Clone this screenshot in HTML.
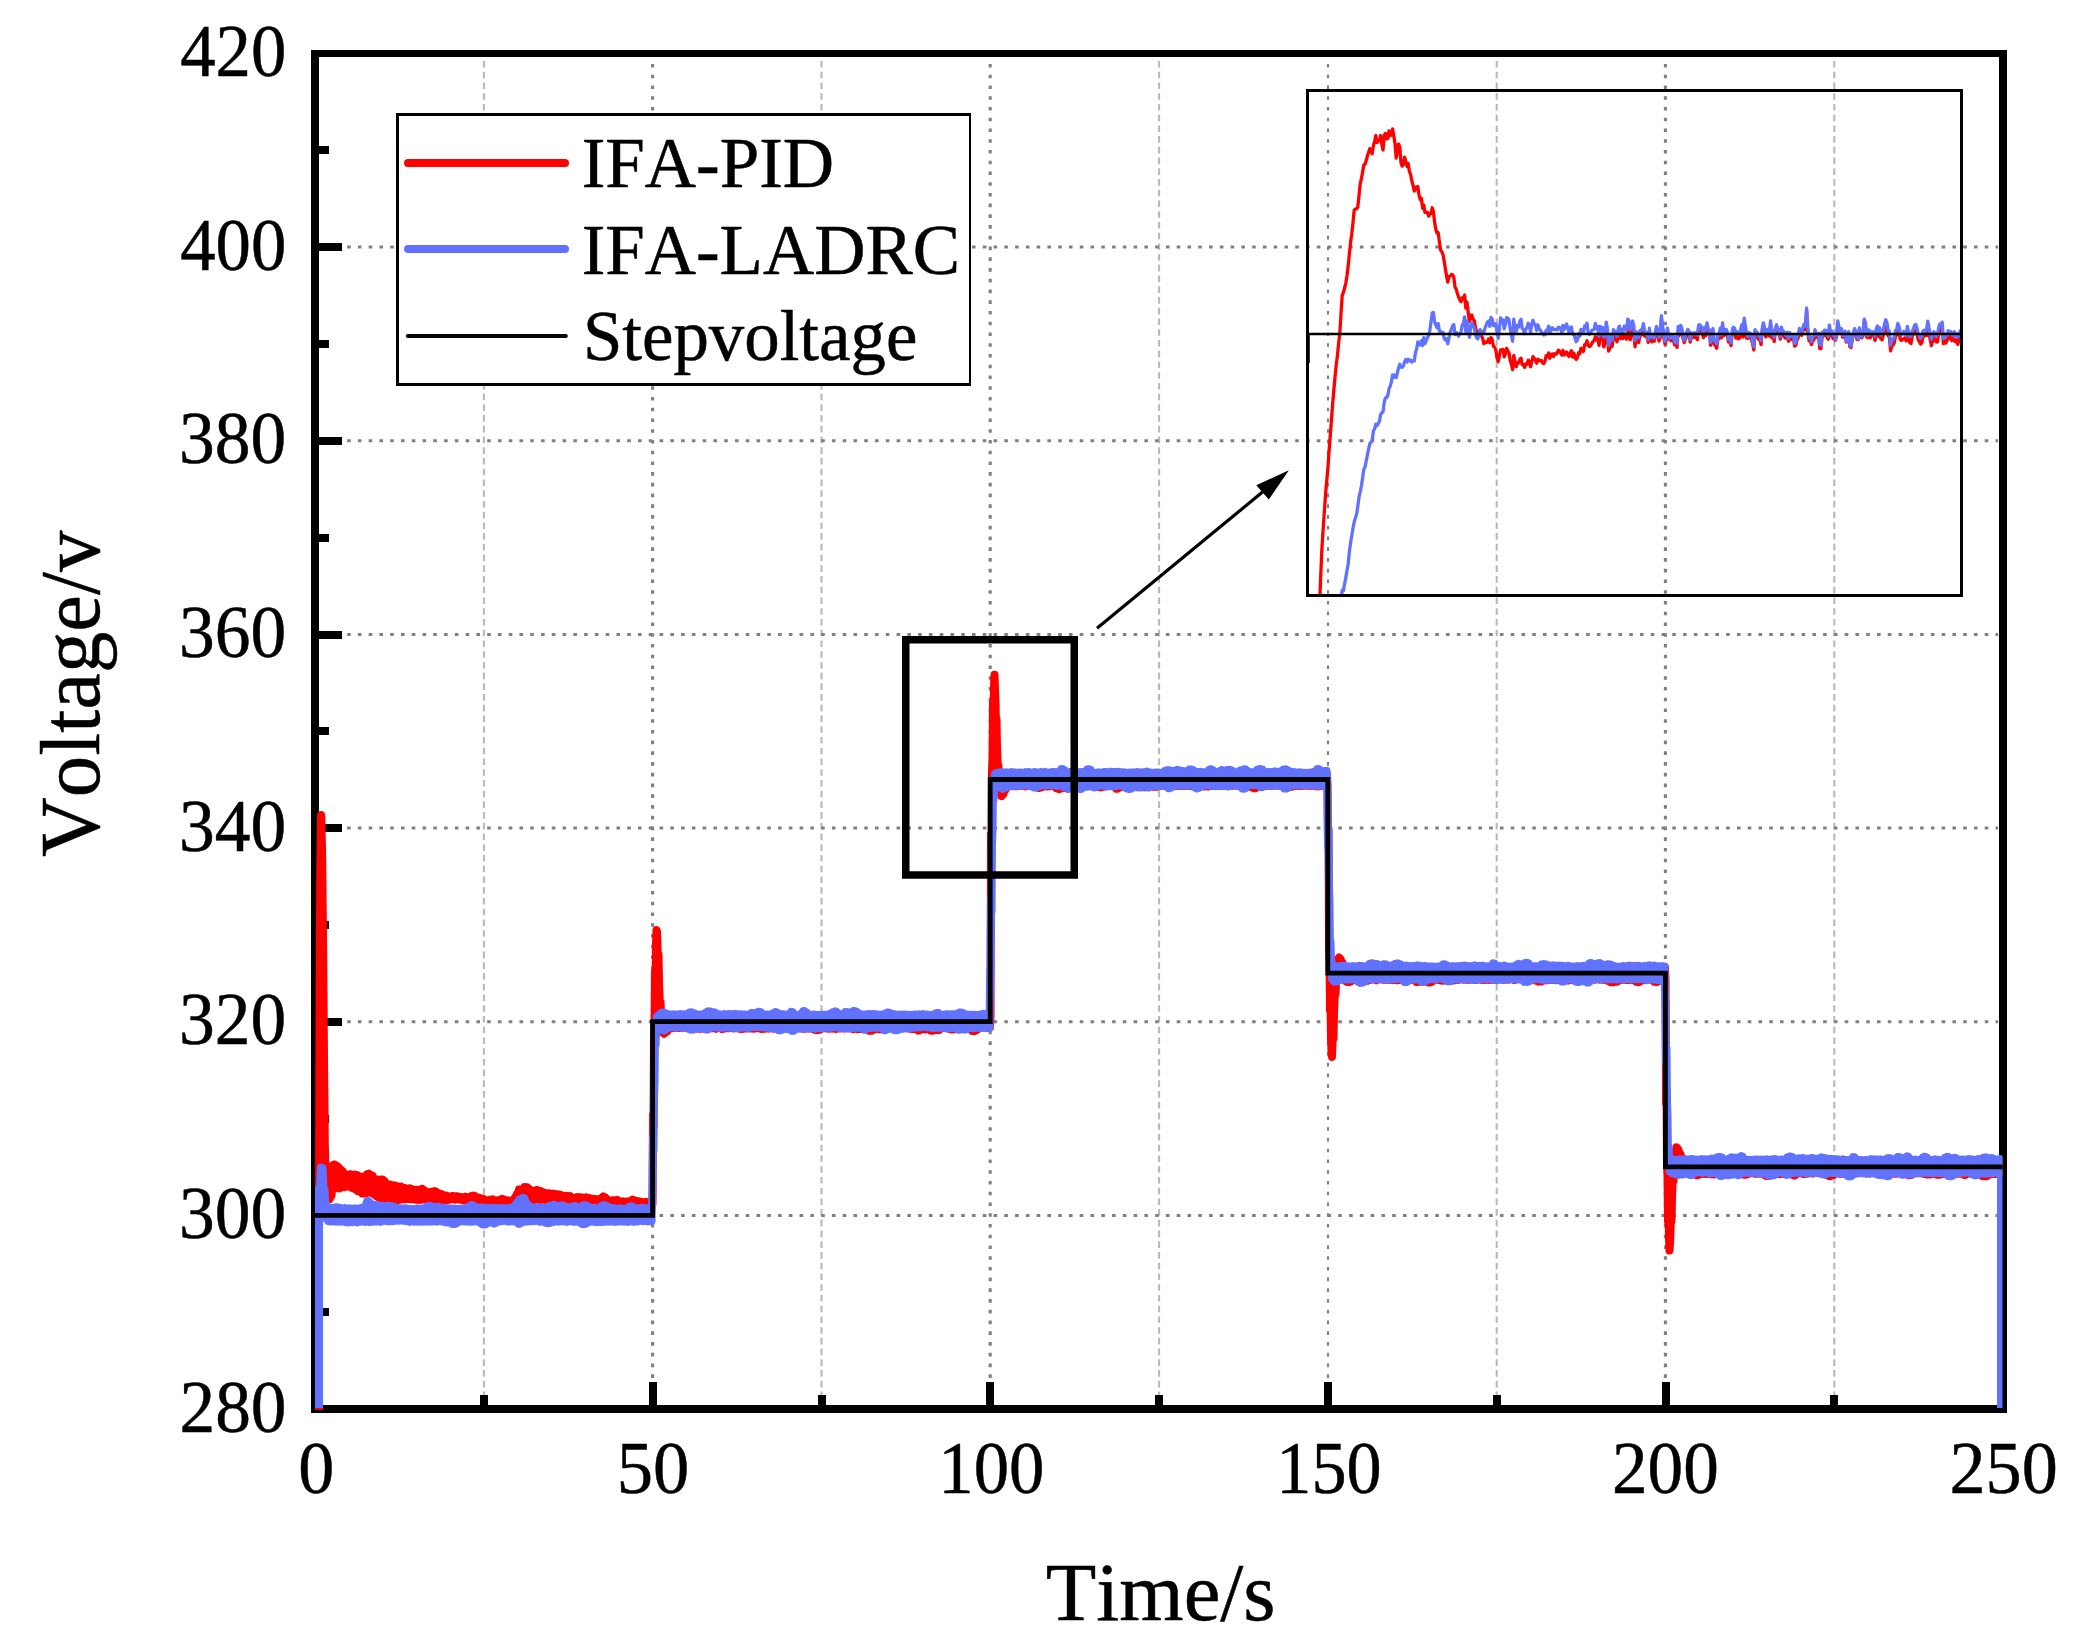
<!DOCTYPE html>
<html><head><meta charset="utf-8"><title>Voltage step response</title>
<style>html,body{margin:0;padding:0;background:#fff}body{width:2073px;height:1648px;overflow:hidden}</style>
</head><body>
<svg width="2073" height="1648" viewBox="0 0 2073 1648" style="display:block">
<defs><clipPath id="pc"><rect x="315" y="57" width="1687.5" height="1353"/></clipPath><clipPath id="ic"><rect x="1309" y="92" width="651" height="503.5"/></clipPath></defs>
<rect width="2073" height="1648" fill="#fff"/>
<g><line x1="483.9" y1="61" x2="483.9" y2="1396" stroke="#b9b9b9" stroke-width="2.1" stroke-dasharray="6.6 4.13"/><line x1="821.5" y1="61" x2="821.5" y2="1396" stroke="#b9b9b9" stroke-width="2.1" stroke-dasharray="6.6 4.13"/><line x1="1159.1" y1="61" x2="1159.1" y2="1396" stroke="#b9b9b9" stroke-width="2.1" stroke-dasharray="6.6 4.13"/><line x1="1496.7" y1="61" x2="1496.7" y2="1396" stroke="#b9b9b9" stroke-width="2.1" stroke-dasharray="6.6 4.13"/><line x1="1834.3" y1="61" x2="1834.3" y2="1396" stroke="#b9b9b9" stroke-width="2.1" stroke-dasharray="6.6 4.13"/><line x1="652.6" y1="64" x2="652.6" y2="1380" stroke="#808080" stroke-width="3.1" stroke-dasharray="3.6 7.14"/><line x1="990.2" y1="64" x2="990.2" y2="1380" stroke="#808080" stroke-width="3.1" stroke-dasharray="3.6 7.14"/><line x1="1328" y1="64" x2="1328" y2="1380" stroke="#808080" stroke-width="2.1" stroke-dasharray="3.6 7.14"/><line x1="1665.4" y1="64" x2="1665.4" y2="1380" stroke="#808080" stroke-width="3.1" stroke-dasharray="3.6 7.14"/><line x1="347.1" y1="1215.4" x2="1998" y2="1215.4" stroke="#808080" stroke-width="3" stroke-dasharray="3.6 7.174"/><line x1="347.1" y1="1021.7" x2="1998" y2="1021.7" stroke="#808080" stroke-width="3" stroke-dasharray="3.6 7.174"/><line x1="347.1" y1="828" x2="1998" y2="828" stroke="#808080" stroke-width="3" stroke-dasharray="3.6 7.174"/><line x1="347.1" y1="634.4" x2="1998" y2="634.4" stroke="#808080" stroke-width="3" stroke-dasharray="3.6 7.174"/><line x1="347.1" y1="440.7" x2="1998" y2="440.7" stroke="#808080" stroke-width="3" stroke-dasharray="3.6 7.174"/><line x1="347.1" y1="247" x2="1998" y2="247" stroke="#808080" stroke-width="3" stroke-dasharray="3.6 7.174"/></g>
<g fill="#000"><rect x="311" y="50" width="8" height="1363"/><rect x="1999" y="50" width="8" height="1363"/><rect x="311" y="50" width="1696" height="7"/><rect x="311" y="1405" width="1696" height="8"/>
<rect x="315" y="1212" width="27" height="8"/>
<rect x="315" y="1018" width="27" height="8"/>
<rect x="315" y="824" width="27" height="8"/>
<rect x="315" y="631" width="27" height="8"/>
<rect x="315" y="437" width="27" height="8"/>
<rect x="315" y="243" width="27" height="8"/>
<rect x="315" y="1308" width="14" height="8"/>
<rect x="315" y="1115" width="14" height="8"/>
<rect x="315" y="921" width="14" height="8"/>
<rect x="315" y="727" width="14" height="8"/>
<rect x="315" y="534" width="14" height="8"/>
<rect x="315" y="340" width="14" height="8"/>
<rect x="315" y="146" width="14" height="8"/>
<rect x="649" y="1382" width="8" height="27"/>
<rect x="986" y="1382" width="8" height="27"/>
<rect x="1324" y="1382" width="8" height="27"/>
<rect x="1662" y="1382" width="8" height="27"/>
<rect x="480" y="1395" width="8" height="14"/>
<rect x="818" y="1395" width="8" height="14"/>
<rect x="1155" y="1395" width="8" height="14"/>
<rect x="1493" y="1395" width="8" height="14"/>
<rect x="1830" y="1395" width="8" height="14"/>
</g>
<g clip-path="url(#pc)" fill="none" stroke-linejoin="round">
<polyline stroke="#ff0000" stroke-width="8" points="319,1412 319,1215.3 319,1215.3 319.2,1139.8 319.4,1064.3 319.6,1004.1 319.8,963.6 320,923.2 320.2,882.7 320.4,865.7 320.6,853.1 320.8,840.4 320.9,827.8 321.1,815.1 321.3,817.8 321.5,826.7 321.7,835.5 321.9,844.4 322.1,853.3 322.3,867.9 322.5,886.8 322.7,905.7 322.9,924.5 323.1,943.4 323.3,965.4 323.5,991.4 323.7,1017.3 323.9,1043.3 324.1,1067.2 324.3,1087.3 324.5,1107.3 324.7,1127.4 324.8,1144.3 325,1151.1 325.2,1158 325.4,1164.8 325.6,1170.9 325.8,1171.6 326,1172.4 326.2,1173.1 326.4,1173.9 326.6,1174.6 327,1173.6 327.5,1199 328,1199 328.5,1173.6 329,1169.3 329.5,1199.3 330,1198.2 330.5,1167.6 331,1167.1 331.5,1195.8 332,1189 332.5,1166.4 333,1165.1 333.5,1183.3 334,1184.6 334.5,1164.6 335,1165.1 335.5,1185.5 336,1186.7 336.5,1165.4 337,1166.1 337.5,1187.2 338,1188.2 338.5,1166.9 339,1168.3 339.5,1188.4 340,1188.2 340.5,1169.2 341,1169.8 341.5,1187.4 342,1187.2 342.5,1171 343,1171.9 343.5,1187 344,1187.1 344.5,1173.8 345,1174 345.5,1186.7 346,1186.2 346.5,1174.5 347,1174.6 347.5,1185.9 348,1185.7 348.5,1174.6 349,1174.4 349.5,1186.1 350,1186.9 350.5,1174.2 351,1174.4 351.5,1187 352,1187.7 352.5,1175.3 353,1174.9 353.5,1187 354,1187.8 354.5,1175.5 355,1174.8 355.5,1187.8 356,1189.6 356.5,1175.3 357,1175.1 357.5,1189.9 358,1191.1 358.5,1176.4 359,1176.6 359.5,1191.1 360,1191.7 360.5,1176.6 361,1177.2 361.5,1192.4 362,1193.3 362.5,1176.7 363,1176.7 363.5,1193.2 364,1193.5 364.5,1176.4 365,1176.3 365.5,1193.1 366,1193.5 366.5,1175.7 367,1174.3 367.5,1192.6 368,1192.3 368.5,1174.2 369,1173.8 369.5,1191.8 370,1192.1 370.5,1175.2 371,1175.3 371.5,1193.1 372,1193.2 372.5,1175.4 373,1176.7 373.5,1194.1 374,1194.5 374.5,1180 375,1180.6 375.5,1195.4 376,1196 376.5,1179.8 377,1180.6 377.5,1196.7 378,1197.1 378.5,1180.7 379,1179.8 379.5,1197.5 380,1197.9 380.5,1180 381,1179.7 381.5,1198.3 382,1198.7 382.5,1179.4 383,1179.6 383.5,1198.8 384,1199.2 384.5,1181.1 385,1182.8 385.5,1199 386,1199.4 386.5,1183.8 387,1184.8 387.5,1199.5 388,1199.5 388.5,1184.6 389,1185.1 389.5,1199 390,1198.6 390.5,1184.6 391,1185.7 391.5,1198.5 392,1199 392.5,1185.2 393,1185.5 393.5,1199.3 394,1199.4 394.5,1185.2 395,1186.3 395.5,1199.4 396,1199.6 396.5,1186 397,1186.8 397.5,1200 398,1199.7 398.5,1187.4 399,1186.9 399.5,1199.7 400,1199.5 400.5,1186.9 401,1186.6 401.5,1199.5 402,1199.4 402.5,1187.7 403,1188.3 403.5,1199 404,1199.2 404.5,1188.8 405,1188.3 405.5,1199.2 406,1199.1 406.5,1188.5 407,1188.7 407.5,1198.9 408,1198.6 408.5,1188.6 409,1188.4 409.5,1199.1 410,1199.1 410.5,1188.4 411,1188.7 411.5,1199.4 412,1199.2 412.5,1189.4 413,1189.5 413.5,1199.2 414,1199.3 414.5,1190.4 415,1190.2 415.5,1199.5 416,1199.7 416.5,1189.7 417,1190.5 417.5,1199.5 418,1199.7 418.5,1189.9 419,1190.1 419.5,1200 420,1199.9 420.5,1189.6 421,1189.3 421.5,1199.5 422,1199 422.5,1188.8 423,1189.9 423.5,1199.5 424,1199.4 424.5,1190.2 425,1190.8 425.5,1199.4 426,1199 426.5,1191.4 427,1192.4 427.5,1199.5 428,1199.5 428.5,1192.3 429,1193.3 429.5,1199.4 430,1198.8 430.5,1192.6 431,1192.1 431.5,1199 432,1199.4 432.5,1192.6 433,1193.5 433.5,1199.7 434,1199.8 434.5,1193.7 435,1191.1 435.5,1199.5 436,1199.5 436.5,1192.1 437,1192.3 437.5,1199.6 438,1199.3 438.5,1193.9 439,1194.3 439.5,1198.9 440,1199.4 440.5,1193.8 441,1195.5 441.5,1199.5 442,1200.1 442.5,1195.4 443,1194.8 443.5,1199.5 444,1199.9 444.5,1196.1 445,1195.7 445.5,1199.8 446,1199.9 446.5,1196.4 447,1195.8 447.5,1200.1 448,1199.7 448.5,1196.5 449,1196.5 449.5,1199.7 450,1199.1 450.5,1196.7 451,1196.8 451.5,1199.1 452,1199.1 452.5,1196 453,1196.6 453.5,1199.1 454,1199.2 454.5,1196.4 455,1196.5 455.5,1199.6 456,1199.4 456.5,1196.3 457,1196.9 457.5,1199.2 458,1198.7 458.5,1196.6 459,1196.8 459.5,1199 460,1199.5 460.5,1197 461,1197.2 461.5,1199.9 462,1200.1 462.5,1198.1 463,1197.7 463.5,1199.9 464,1200.3 464.5,1196.9 465,1196.7 465.5,1199.9 466,1199.6 466.5,1197.4 467,1197.3 467.5,1199.1 468,1199.6 468.5,1198.6 469,1198.8 469.5,1199.8 470,1199.4 470.5,1198.1 471,1196.4 471.5,1199.1 472,1199.1 472.5,1195.7 473,1195.6 473.5,1199.1 474,1199.3 474.5,1195.8 475,1196.9 475.5,1199.1 476,1199.6 476.5,1197.3 477,1197.3 477.5,1199.8 478,1200.5 478.5,1198 479,1197.8 479.5,1200 480,1199.9 480.5,1198.7 481,1198.5 481.5,1199.5 482,1200 482.5,1199 483,1198.7 483.5,1199.7 484,1200.6 484.5,1199.6 485,1199.9 485.5,1200.9 486,1201.1 486.5,1200.1 487,1200.5 487.5,1201.5 488,1201.3 488.5,1200.3 489,1200.1 489.5,1201.1 490,1200.7 490.5,1199.7 491,1200.3 491.5,1201.3 492,1201 492.5,1200 493,1199.6 493.5,1200.6 494,1202.1 494.5,1201.1 495,1201.5 495.5,1202.5 496,1202.6 496.5,1201.6 497,1200.5 497.5,1201.5 498,1201.7 498.5,1200.7 499,1200.2 499.5,1201.2 500,1201.4 500.5,1200.4 501,1199.5 501.5,1200.5 502,1199.8 502.5,1198.8 503,1199.2 503.5,1200.2 504,1200.7 504.5,1199.7 505,1199.7 505.5,1200.7 506,1201.3 506.5,1200.3 507,1200.6 507.5,1201.6 508,1201.5 508.5,1200.5 509,1200.6 509.5,1201.6 510,1201.8 510.5,1200.8 511,1201.9 511.5,1202.9 512,1203.1 512.5,1202.1 513,1200.7 513.5,1201.7 514,1199.8 514.5,1198.8 515,1197.4 515.5,1199.6 516,1199.2 516.5,1195.7 517,1193.8 517.5,1199.6 518,1199.3 518.5,1191.9 519,1189.5 519.5,1200 520,1200.1 520.5,1189.5 521,1189.7 521.5,1200.3 522,1200.2 522.5,1189.5 523,1189.6 523.5,1200 524,1199.9 524.5,1187.1 525,1187.6 525.5,1199.5 526,1199.5 526.5,1187.3 527,1187.2 527.5,1199.7 528,1199.9 528.5,1188.4 529,1188.9 529.5,1199.9 530,1199.9 530.5,1189.9 531,1191 531.5,1200 532,1200.1 532.5,1190.9 533,1191.1 533.5,1200.3 534,1200.1 534.5,1190.6 535,1190.9 535.5,1199.7 536,1199.3 536.5,1190.6 537,1190 537.5,1198.9 538,1199.4 538.5,1191.7 539,1191.7 539.5,1199.8 540,1200.1 540.5,1191.6 541,1191.2 541.5,1199.6 542,1199.6 542.5,1191.9 543,1192.7 543.5,1199.6 544,1199.9 544.5,1193.2 545,1193.1 545.5,1199.7 546,1199.5 546.5,1193.2 547,1193.9 547.5,1199.7 548,1199.7 548.5,1193.2 549,1194.6 549.5,1200 550,1199.9 550.5,1193.8 551,1194.7 551.5,1199.7 552,1199.9 552.5,1194.4 553,1193.8 553.5,1199.6 554,1200 554.5,1194 555,1194 555.5,1199.9 556,1199.6 556.5,1194.9 557,1194.6 557.5,1199.1 558,1199.5 558.5,1194.5 559,1194.9 559.5,1199.7 560,1200.4 560.5,1194.8 561,1195.3 561.5,1200.3 562,1200.4 562.5,1195.9 563,1197 563.5,1200.3 564,1200.2 564.5,1196.1 565,1196.8 565.5,1200.5 566,1200.5 566.5,1195.8 567,1196.6 567.5,1200.6 568,1200.2 568.5,1197.1 569,1196.8 569.5,1200 570,1199.8 570.5,1196.1 571,1197.5 571.5,1199.9 572,1200.1 572.5,1197.8 573,1198.3 573.5,1200.6 574,1200.7 574.5,1198.4 575,1197.9 575.5,1200.6 576,1200.6 576.5,1198.2 577,1197.1 577.5,1200.5 578,1200.5 578.5,1197.7 579,1197.3 579.5,1200.2 580,1200 580.5,1197.5 581,1197.4 581.5,1199.7 582,1199.6 582.5,1198 583,1198.9 583.5,1199.9 584,1199.7 584.5,1198.1 585,1197.9 585.5,1199.7 586,1199.7 586.5,1197.3 587,1198.1 587.5,1199.8 588,1199.4 588.5,1198.4 589,1198.2 589.5,1199.4 590,1199.9 590.5,1198.6 591,1198.5 591.5,1200.5 592,1200.8 592.5,1198.9 593,1199.1 593.5,1200.4 594,1200.4 594.5,1198.8 595,1198.9 595.5,1200.1 596,1200.3 596.5,1199.3 597,1199.8 597.5,1200.8 598,1200.2 598.5,1199.2 599,1199.4 599.5,1200.4 600,1200.3 600.5,1199.3 601,1198.8 601.5,1200.4 602,1200.3 602.5,1197 603,1196.6 603.5,1200.3 604,1199.8 604.5,1197 605,1197.1 605.5,1199.8 606,1199.7 606.5,1198.7 607,1199 607.5,1200 608,1201.4 608.5,1200.4 609,1201 609.5,1202 610,1202.2 610.5,1201.2 611,1201 611.5,1202 612,1201.4 612.5,1200.4 613,1201.1 613.5,1202.1 614,1201.5 614.5,1200.5 615,1200.8 615.5,1201.8 616,1201.5 616.5,1200.5 617,1200 617.5,1201 618,1201.7 618.5,1200.7 619,1201.2 619.5,1202.2 620,1202.5 620.5,1201.5 621,1202.3 621.5,1203.3 622,1202.6 622.5,1201.6 623,1201.4 623.5,1202.4 624,1202.8 624.5,1201.8 625,1202.8 625.5,1203.8 626,1202.6 626.5,1201.6 627,1201.5 627.5,1202.5 628,1202.4 628.5,1201.4 629,1201.8 629.5,1202.8 630,1201.9 630.5,1200.9 631,1200.7 631.5,1201.7 632,1200.9 632.5,1199.5 633,1199.7 633.5,1200.7 634,1201.6 634.5,1200.6 635,1201 635.5,1202 636,1202.4 636.5,1201.4 637,1201.2 637.5,1202.2 638,1202.9 638.5,1201.9 639,1201.5 639.5,1202.5 640,1202.8 640.5,1201.8 641,1201.8 641.5,1202.8 642,1203.2 642.5,1202.2 643,1202.9 643.5,1203.9 644,1203.7 644.5,1202.7 645,1202.7 645.5,1203.7 646,1203 646.5,1202 647,1202.6 647.5,1203.6 648,1203.3 648.5,1202.3 649,1203.6 649.5,1204.6 650,1204.6 650.5,1203.6 651,1204.3 651.5,1205.3 652,1204.8 652.5,1203.8 653,1114.6 653.5,1127 654,1034.3 654.5,1022 655,971.4 655.5,984.2 656,943.5 656.5,930 657,931.5 657.5,945.6 658,968.4 658.5,954.3 659,981.6 659.5,995.5 660,1015.7 660.5,1001.8 661,1013.1 661.5,1026.2 662,1031.1 662.5,1018.7 663,1020.7 663.5,1033.4 664,1033.7 664.5,1020.9 665,1020.9 665.5,1032.7 666,1032.3 666.5,1019.7 667,1018.6 667.5,1031.2 668,1029.7 668.5,1017.7 669,1016.9 669.5,1028.8 670,1028.6 670.5,1016.4 671,1016.6 671.5,1028.3 672,1027.9 672.5,1016.4 673,1016.5 673.5,1027.7 674,1027.8 674.5,1016.6 675,1016.3 675.5,1027.6 676,1027.8 676.5,1016.4 677,1016.4 677.5,1027.6 678,1027.9 678.5,1016.3 679,1016.4 679.5,1027.9 680,1027.6 680.5,1016.2 681,1016.5 681.5,1027.8 682,1027.6 682.5,1016.6 683,1016.3 683.5,1027.7 684,1027.6 684.5,1016 685,1016.1 685.5,1027.7 686,1027.9 686.5,1016 687,1015.7 687.5,1027.8 688,1027.5 688.5,1015.7 689,1015.4 689.5,1028 690,1027.9 690.5,1015.6 691,1015.3 691.5,1028 692,1028.7 692.5,1015.6 693,1015.6 693.5,1029 694,1029 694.5,1015.4 695,1015.4 695.5,1028.7 696,1028.1 696.5,1014.6 697,1015.6 697.5,1028.6 698,1028.3 698.5,1015.9 699,1015.9 699.5,1028.3 700,1028.7 700.5,1015.7 701,1016.1 701.5,1028.6 702,1028.6 702.5,1015.9 703,1016.1 703.5,1028.7 704,1028.5 704.5,1016.4 705,1016.2 705.5,1028.3 706,1028.1 706.5,1016.1 707,1016.3 707.5,1028.4 708,1027.8 708.5,1016.2 709,1016.3 709.5,1027.7 710,1028.2 710.5,1016 711,1016 711.5,1027.9 712,1028.1 712.5,1016 713,1015.4 713.5,1028.3 714,1028.2 714.5,1016 715,1016 715.5,1028.3 716,1028.7 716.5,1015.8 717,1016 717.5,1028.2 718,1028.2 718.5,1015.8 719,1015.9 719.5,1028 720,1028.1 720.5,1016.1 721,1015.8 721.5,1028.3 722,1029 722.5,1015.9 723,1016.2 723.5,1028.8 724,1028.5 724.5,1015.9 725,1015.8 725.5,1028.2 726,1028 726.5,1016 727,1016.1 727.5,1028 728,1028.2 728.5,1016.1 729,1016.2 729.5,1028.2 730,1028.1 730.5,1015.7 731,1016 731.5,1027.8 732,1028.1 732.5,1015.9 733,1015.9 733.5,1028.4 734,1028.4 734.5,1015.5 735,1015.5 735.5,1028.2 736,1028 736.5,1016 737,1015.8 737.5,1028.1 738,1028 738.5,1015.8 739,1015.1 739.5,1028.8 740,1028.2 740.5,1015.4 741,1015.6 741.5,1028.2 742,1029.1 742.5,1015.4 743,1015.5 743.5,1028.7 744,1028.3 744.5,1015.4 745,1015.6 745.5,1028.5 746,1028.2 746.5,1015.5 747,1015.3 747.5,1028.5 748,1028.3 748.5,1015.1 749,1014.8 749.5,1028.3 750,1028.4 750.5,1014.9 751,1015.4 751.5,1028.4 752,1028.5 752.5,1015 753,1015.3 753.5,1028.5 754,1028.7 754.5,1015.4 755,1015.4 755.5,1028.4 756,1028.2 756.5,1015 757,1014.8 757.5,1028.3 758,1028.3 758.5,1014.8 759,1014.8 759.5,1028.4 760,1028.6 760.5,1015 761,1015.4 761.5,1029 762,1028.4 762.5,1016.1 763,1015.6 763.5,1028.6 764,1028.8 764.5,1016 765,1015.9 765.5,1028.5 766,1028.2 766.5,1015.4 767,1015.5 767.5,1028.3 768,1028.5 768.5,1015.7 769,1015.8 769.5,1028 770,1028.2 770.5,1016 771,1016 771.5,1028.4 772,1028.4 772.5,1015.9 773,1015.6 773.5,1028.3 774,1028.6 774.5,1015.9 775,1015.8 775.5,1028.2 776,1028.3 776.5,1015.4 777,1015.7 777.5,1028.9 778,1028.6 778.5,1015.7 779,1015.6 779.5,1028.2 780,1028.1 780.5,1016 781,1015.8 781.5,1028.4 782,1028.2 782.5,1015.7 783,1015.6 783.5,1028.4 784,1028.1 784.5,1015.4 785,1015.6 785.5,1028.5 786,1028 786.5,1015.8 787,1015.5 787.5,1028 788,1028 788.5,1015.8 789,1016 789.5,1027.8 790,1027.9 790.5,1015.7 791,1015.5 791.5,1027.8 792,1028.2 792.5,1015.9 793,1015.9 793.5,1028.6 794,1028 794.5,1015.9 795,1015.8 795.5,1028.1 796,1028.5 796.5,1016 797,1016.2 797.5,1028.4 798,1028.3 798.5,1016.2 799,1016 799.5,1028.1 800,1028.2 800.5,1015.9 801,1016.4 801.5,1028.5 802,1028.3 802.5,1016.3 803,1016 803.5,1028.2 804,1028.8 804.5,1015.7 805,1016 805.5,1028.4 806,1028.6 806.5,1015.6 807,1015.9 807.5,1028.5 808,1028.3 808.5,1015.9 809,1015.9 809.5,1028.4 810,1028.2 810.5,1016.1 811,1016.1 811.5,1027.7 812,1027.8 812.5,1016.1 813,1015.9 813.5,1028.9 814,1029.5 814.5,1015.9 815,1015.6 815.5,1029.8 816,1030 816.5,1015.6 817,1015.7 817.5,1030.1 818,1030 818.5,1015.5 819,1015.9 819.5,1029.8 820,1029.5 820.5,1016 821,1015.8 821.5,1028.9 822,1028.1 822.5,1015.8 823,1015.5 823.5,1028 824,1028.1 824.5,1015.5 825,1015.3 825.5,1028.1 826,1028.4 826.5,1015.3 827,1015.2 827.5,1028 828,1028.4 828.5,1015.2 829,1015.1 829.5,1028.8 830,1028.1 830.5,1014.7 831,1015 831.5,1028 832,1028.4 832.5,1014.9 833,1015.2 833.5,1028.2 834,1028.4 834.5,1015.1 835,1014.9 835.5,1028.4 836,1029 836.5,1015 837,1014.7 837.5,1028.6 838,1028.5 838.5,1015.4 839,1015.6 839.5,1028.5 840,1028.3 840.5,1015.6 841,1015.6 841.5,1028.2 842,1028.1 842.5,1015.5 843,1016.2 843.5,1028 844,1028.5 844.5,1015.9 845,1016.2 845.5,1028.2 846,1028.3 846.5,1016.3 847,1016.3 847.5,1028.3 848,1028 848.5,1016.1 849,1015.6 849.5,1028.2 850,1028.2 850.5,1016.4 851,1016.2 851.5,1028.3 852,1028.7 852.5,1016.5 853,1015.7 853.5,1029.2 854,1028.6 854.5,1016.5 855,1015.9 855.5,1028.6 856,1028.7 856.5,1015.8 857,1016.3 857.5,1029.2 858,1028.8 858.5,1016.2 859,1016 859.5,1028.9 860,1028.9 860.5,1016 861,1016 861.5,1029 862,1028.8 862.5,1016.1 863,1015.6 863.5,1028.4 864,1028.3 864.5,1015.6 865,1015.2 865.5,1028.4 866,1029.3 866.5,1014.9 867,1014.6 867.5,1030 868,1030.4 868.5,1014.6 869,1014.6 869.5,1030.7 870,1030.8 870.5,1014.9 871,1015.2 871.5,1030.7 872,1030.4 872.5,1015.4 873,1015.4 873.5,1030 874,1029.3 874.5,1015.9 875,1016 875.5,1028.5 876,1028.5 876.5,1016.1 877,1016.2 877.5,1028.7 878,1029.1 878.5,1015.7 879,1016.1 879.5,1028.8 880,1029.3 880.5,1015.5 881,1015.5 881.5,1028.5 882,1028.7 882.5,1015.9 883,1015.7 883.5,1028.8 884,1028.5 884.5,1016.1 885,1015.8 885.5,1028.3 886,1028.2 886.5,1016.2 887,1016.1 887.5,1028.3 888,1028.7 888.5,1016 889,1016 889.5,1028.3 890,1028.2 890.5,1015.9 891,1015.9 891.5,1028.4 892,1028.1 892.5,1016.3 893,1015.5 893.5,1027.9 894,1027.7 894.5,1016.1 895,1016.3 895.5,1027.9 896,1028 896.5,1016.4 897,1016.3 897.5,1027.9 898,1028.3 898.5,1016.3 899,1016.7 899.5,1028.2 900,1028.2 900.5,1016.4 901,1016.5 901.5,1028 902,1028.3 902.5,1016.2 903,1016 903.5,1028.4 904,1027.9 904.5,1015.9 905,1016.1 905.5,1028 906,1028.1 906.5,1016.2 907,1015.8 907.5,1027.8 908,1028.2 908.5,1015.6 909,1015.7 909.5,1028.7 910,1028.6 910.5,1016.1 911,1015.6 911.5,1028.9 912,1029.1 912.5,1015.5 913,1015.6 913.5,1029.1 914,1028.9 914.5,1016 915,1016 915.5,1028.6 916,1028.3 916.5,1016.1 917,1015.6 917.5,1029.8 918,1030.5 918.5,1015.9 919,1016.1 919.5,1030.5 920,1029.8 920.5,1015.9 921,1015.6 921.5,1028.4 922,1028.8 922.5,1016 923,1016.1 923.5,1029.2 924,1029.4 924.5,1015.8 925,1015.6 925.5,1029.4 926,1029.2 926.5,1015.8 927,1015.6 927.5,1028.9 928,1027.9 928.5,1016 929,1015.4 929.5,1029.6 930,1030.4 930.5,1015.5 931,1015.9 931.5,1030.8 932,1030.8 932.5,1015.4 933,1015.8 933.5,1030.4 934,1029.6 934.5,1015.9 935,1015.5 935.5,1029.3 936,1029.9 936.5,1015.7 937,1016 937.5,1030.2 938,1030.2 938.5,1015.5 939,1015.6 939.5,1029.9 940,1029.3 940.5,1015.5 941,1015.5 941.5,1028 942,1028.2 942.5,1015.2 943,1015.7 943.5,1027.9 944,1028 944.5,1015.5 945,1015.3 945.5,1028.2 946,1028.1 946.5,1015.3 947,1015 947.5,1028.4 948,1028.1 948.5,1014.8 949,1015 949.5,1028.7 950,1029.1 950.5,1015.3 951,1015.3 951.5,1029.4 952,1029.4 952.5,1015.1 953,1015.5 953.5,1029.4 954,1029.1 954.5,1015.5 955,1015.8 955.5,1028.7 956,1028.4 956.5,1015.5 957,1015.8 957.5,1028.3 958,1028.3 958.5,1015.5 959,1015.6 959.5,1028.1 960,1028.3 960.5,1016.2 961,1015.9 961.5,1027.9 962,1028.4 962.5,1015.9 963,1016.1 963.5,1028.2 964,1028.4 964.5,1015.6 965,1015.6 965.5,1028.4 966,1028.7 966.5,1015.6 967,1015.2 967.5,1028.5 968,1028.6 968.5,1015.6 969,1015.8 969.5,1027.9 970,1029.5 970.5,1015.2 971,1015.8 971.5,1030.3 972,1030.8 972.5,1015.7 973,1015.7 973.5,1031.1 974,1031.1 974.5,1015.8 975,1015.6 975.5,1030.8 976,1030.3 976.5,1015.9 977,1015.4 977.5,1029.5 978,1027.8 978.5,1015.1 979,1014.9 979.5,1027.4 980,1027.4 980.5,1014.8 981,1014.9 981.5,1027.6 982,1027.6 982.5,1015.1 983,1015.4 983.5,1027.7 984,1027.3 984.5,1015.8 985,1016.2 985.5,1027.6 986,1027.4 986.5,1016.3 987,1016 987.5,1027.2 988,1027.8 988.5,1016.3 989,1016.5 989.5,1027 990,1027.1 990.5,1016.3 991,834 991.5,845 992,770.6 992.5,758.8 993,702 993.5,713.5 994,686.2 994.5,674.7 995,689.3 995.5,700.9 996,730.6 996.5,719 997,747.2 997.5,759 998,777.6 998.5,765.7 999,775.9 999.5,788 1000,793.4 1000.5,781.6 1001,783.7 1001.5,796.2 1002,795.3 1002.5,783.2 1003,781.5 1003.5,794 1004,791.7 1004.5,779.2 1005,777.3 1005.5,789.6 1006,787.8 1006.5,776.2 1007,774.7 1007.5,786.7 1008,786 1008.5,774.4 1009,774.1 1009.5,786.1 1010,785.9 1010.5,774.1 1011,773.9 1011.5,786.3 1012,785.6 1012.5,774.1 1013,774.1 1013.5,785.7 1014,786.1 1014.5,773.9 1015,773.5 1015.5,786.3 1016,785.6 1016.5,773.8 1017,773.9 1017.5,785.6 1018,786.1 1018.5,774 1019,774 1019.5,786 1020,785.6 1020.5,773.8 1021,774.1 1021.5,785.8 1022,785.8 1022.5,773.4 1023,773.6 1023.5,785.9 1024,785.7 1024.5,773.3 1025,772.7 1025.5,786.4 1026,786.2 1026.5,773.5 1027,772.8 1027.5,785.7 1028,785.5 1028.5,773.6 1029,773.5 1029.5,785.5 1030,785.6 1030.5,773.7 1031,774 1031.5,785.5 1032,785.5 1032.5,773.9 1033,773.8 1033.5,785.5 1034,785.7 1034.5,774.2 1035,774.1 1035.5,786 1036,787 1036.5,773.5 1037,774 1037.5,787.5 1038,787.8 1038.5,774.4 1039,774.4 1039.5,787.9 1040,787.8 1040.5,774.2 1041,773.8 1041.5,787.5 1042,787 1042.5,774 1043,773.5 1043.5,786.8 1044,786.1 1044.5,773.5 1045,773.6 1045.5,786.6 1046,786.2 1046.5,773.6 1047,773.5 1047.5,786 1048,786.3 1048.5,773.2 1049,773.5 1049.5,786.1 1050,786.2 1050.5,773.5 1051,772.9 1051.5,786 1052,785.9 1052.5,773.4 1053,773 1053.5,786.3 1054,786.1 1054.5,773.3 1055,773.6 1055.5,787.3 1056,788.1 1056.5,773.6 1057,773.8 1057.5,788.6 1058,788.9 1058.5,773.1 1059,773.4 1059.5,789 1060,788.9 1060.5,773.3 1061,773.6 1061.5,788.6 1062,788.1 1062.5,773.1 1063,772.9 1063.5,787.3 1064,787.7 1064.5,773.4 1065,772.8 1065.5,788.1 1066,788.2 1066.5,773.1 1067,773.7 1067.5,788.5 1068,788.7 1068.5,773.6 1069,773.5 1069.5,788.5 1070,787.7 1070.5,772.7 1071,772.1 1071.5,786.5 1072,785.7 1072.5,771.9 1073,771.9 1073.5,786.9 1074,787.3 1074.5,772.1 1075,772.7 1075.5,787.3 1076,786.9 1076.5,773.9 1077,773.4 1077.5,785.7 1078,785.4 1078.5,773.7 1079,773.5 1079.5,785.5 1080,786.2 1080.5,773.1 1081,773.2 1081.5,785.5 1082,785.6 1082.5,773.4 1083,773.4 1083.5,785.7 1084,786 1084.5,773.4 1085,773.2 1085.5,786.1 1086,785.9 1086.5,773.6 1087,773.4 1087.5,786.4 1088,786.3 1088.5,773.7 1089,773.5 1089.5,786.3 1090,786 1090.5,773.7 1091,773.8 1091.5,786.2 1092,785.8 1092.5,773.8 1093,773.3 1093.5,785.7 1094,786.2 1094.5,773.9 1095,774 1095.5,786 1096,786 1096.5,773.4 1097,773.2 1097.5,785.8 1098,786.8 1098.5,773 1099,772.9 1099.5,787.2 1100,787.4 1100.5,772.9 1101,773 1101.5,787.2 1102,786.8 1102.5,773.2 1103,773.4 1103.5,785.7 1104,785.8 1104.5,773.6 1105,773.8 1105.5,786.5 1106,786.3 1106.5,773.7 1107,773.6 1107.5,785.7 1108,786.3 1108.5,773.4 1109,773.1 1109.5,785.6 1110,785.6 1110.5,773.4 1111,773.2 1111.5,786.3 1112,785.9 1112.5,773 1113,773.1 1113.5,785.5 1114,785.7 1114.5,773.4 1115,773.2 1115.5,787.8 1116,788.6 1116.5,773.1 1117,772.8 1117.5,788.8 1118,788.6 1118.5,773.1 1119,773 1119.5,787.8 1120,785.7 1120.5,772.8 1121,772.6 1121.5,785.4 1122,785.7 1122.5,773.3 1123,773.6 1123.5,785.6 1124,785.6 1124.5,773.4 1125,773 1125.5,785.7 1126,786.7 1126.5,773.3 1127,773.1 1127.5,787 1128,787 1128.5,773.2 1129,773 1129.5,786.7 1130,785.7 1130.5,773.1 1131,773.4 1131.5,785.9 1132,786.1 1132.5,773.5 1133,773.2 1133.5,785.9 1134,785.8 1134.5,773.6 1135,773.4 1135.5,785.7 1136,786 1136.5,773.1 1137,772.6 1137.5,786.2 1138,785.7 1138.5,773.7 1139,773.7 1139.5,785.8 1140,786.2 1140.5,773.6 1141,773.1 1141.5,786 1142,786.6 1142.5,772.8 1143,772.8 1143.5,787 1144,787.2 1144.5,773.1 1145,773.6 1145.5,787.2 1146,787 1146.5,773.7 1147,773.3 1147.5,786.6 1148,786.3 1148.5,773.9 1149,773.9 1149.5,786.3 1150,786.3 1150.5,773.8 1151,773.9 1151.5,786.4 1152,786.3 1152.5,773.9 1153,773.7 1153.5,786.8 1154,786.4 1154.5,774 1155,774.5 1155.5,786.2 1156,786.5 1156.5,774.2 1157,774.1 1157.5,786.2 1158,786.6 1158.5,774.2 1159,773.9 1159.5,786 1160,785.8 1160.5,773.7 1161,773.7 1161.5,785.8 1162,785.8 1162.5,774 1163,773.5 1163.5,785.7 1164,785.7 1164.5,773.7 1165,773.5 1165.5,786.2 1166,786.3 1166.5,773.7 1167,774 1167.5,786.1 1168,785.9 1168.5,773.8 1169,773.6 1169.5,786.2 1170,785.9 1170.5,773.1 1171,773 1171.5,785.7 1172,786.4 1172.5,772.8 1173,772.7 1173.5,785.8 1174,786 1174.5,772.8 1175,773 1175.5,785.6 1176,785.8 1176.5,773.3 1177,774 1177.5,786 1178,785.8 1178.5,773.9 1179,773.6 1179.5,785.8 1180,786.1 1180.5,773.8 1181,773.8 1181.5,785.8 1182,785.8 1182.5,773.7 1183,773.6 1183.5,786 1184,785.7 1184.5,773.4 1185,773.6 1185.5,786.1 1186,785.9 1186.5,773.8 1187,774 1187.5,785.7 1188,785.8 1188.5,773.7 1189,773.3 1189.5,785.9 1190,785.7 1190.5,773.1 1191,773.2 1191.5,786.2 1192,785.8 1192.5,773.2 1193,773.2 1193.5,786.2 1194,785.8 1194.5,772.9 1195,773.2 1195.5,786.2 1196,786.1 1196.5,772.7 1197,772.9 1197.5,785.9 1198,786.3 1198.5,773.1 1199,773 1199.5,786.1 1200,786.2 1200.5,773.2 1201,773.7 1201.5,786.4 1202,786.2 1202.5,773.3 1203,773.6 1203.5,786.1 1204,786.5 1204.5,773.4 1205,773.5 1205.5,786.1 1206,786.2 1206.5,773.1 1207,773.6 1207.5,786.3 1208,786.5 1208.5,773.5 1209,773.5 1209.5,786.1 1210,785.9 1210.5,773.4 1211,773.2 1211.5,786 1212,785.9 1212.5,773.4 1213,773.6 1213.5,785.8 1214,785.9 1214.5,773.3 1215,773.5 1215.5,785.6 1216,785.6 1216.5,773.2 1217,773.3 1217.5,785.7 1218,785.9 1218.5,773.3 1219,773 1219.5,785.7 1220,785.4 1220.5,773.5 1221,773.3 1221.5,785.7 1222,785.4 1222.5,773.7 1223,773.5 1223.5,785.3 1224,785.5 1224.5,773.6 1225,773.6 1225.5,785.5 1226,785.3 1226.5,773.7 1227,774 1227.5,785.9 1228,786.2 1228.5,773.8 1229,774 1229.5,785.6 1230,785.5 1230.5,773.6 1231,774.1 1231.5,785.8 1232,785.4 1232.5,773.8 1233,774.2 1233.5,785.6 1234,785.5 1234.5,773.6 1235,774.1 1235.5,785.4 1236,785.4 1236.5,774 1237,773.5 1237.5,785.8 1238,785.5 1238.5,774.1 1239,773.9 1239.5,785.7 1240,785.5 1240.5,773.5 1241,773.7 1241.5,786 1242,785.7 1242.5,773.5 1243,773.4 1243.5,785.7 1244,786.1 1244.5,773.9 1245,773.5 1245.5,786.3 1246,786.5 1246.5,773.2 1247,773.4 1247.5,786.4 1248,786.4 1248.5,773.8 1249,773.7 1249.5,786.4 1250,785.9 1250.5,773.5 1251,773.5 1251.5,786 1252,787.3 1252.5,773.4 1253,773.6 1253.5,788 1254,788.3 1254.5,773.7 1255,773.1 1255.5,788.3 1256,788 1256.5,772.7 1257,772.4 1257.5,787.3 1258,786.1 1258.5,772.2 1259,772.2 1259.5,786.1 1260,785.9 1260.5,772.2 1261,772.4 1261.5,785.8 1262,785.5 1262.5,772.7 1263,773.1 1263.5,785.9 1264,785.6 1264.5,772.9 1265,772.8 1265.5,785.6 1266,785.8 1266.5,772.8 1267,772.8 1267.5,785.7 1268,785.8 1268.5,772.9 1269,773.1 1269.5,785.7 1270,785.6 1270.5,773.4 1271,774 1271.5,785.7 1272,785.9 1272.5,774.1 1273,774 1273.5,785.7 1274,785.6 1274.5,773.9 1275,773.8 1275.5,785.6 1276,785.6 1276.5,773.6 1277,773.4 1277.5,785.5 1278,785.7 1278.5,773.9 1279,774.2 1279.5,785.6 1280,785.6 1280.5,774 1281,774.1 1281.5,785.7 1282,785.7 1282.5,774.3 1283,774 1283.5,785.8 1284,786.4 1284.5,773.8 1285,774.1 1285.5,786.7 1286,786.9 1286.5,774.1 1287,773.4 1287.5,787 1288,787 1288.5,774.1 1289,774 1289.5,787 1290,786.9 1290.5,773.5 1291,773.9 1291.5,786.7 1292,786.4 1292.5,773.8 1293,773.3 1293.5,785.7 1294,786.1 1294.5,773.7 1295,773.3 1295.5,786.1 1296,786 1296.5,773.2 1297,773.1 1297.5,785.7 1298,785.5 1298.5,773.3 1299,773.2 1299.5,786 1300,785.7 1300.5,773.7 1301,773.7 1301.5,785.9 1302,785.9 1302.5,773.6 1303,773.5 1303.5,785.7 1304,785.6 1304.5,773.6 1305,773 1305.5,785.7 1306,785.5 1306.5,773.7 1307,773.6 1307.5,785.7 1308,785.3 1308.5,773.5 1309,773.9 1309.5,785.2 1310,785.8 1310.5,773.2 1311,773 1311.5,785.8 1312,785.5 1312.5,772.6 1313,772.3 1313.5,785.7 1314,785.5 1314.5,772.2 1315,772.3 1315.5,786.3 1316,785.9 1316.5,772.6 1317,773 1317.5,786.4 1318,785.6 1318.5,773.6 1319,773.6 1319.5,785.7 1320,786.1 1320.5,773.6 1321,774 1321.5,785.7 1322,785.8 1322.5,773.9 1323,774 1323.5,785.9 1324,785.9 1324.5,774 1325,773.8 1325.5,785.8 1326,786.1 1326.5,773.7 1327,773.9 1327.5,785.9 1328,841.8 1328.5,828.7 1329,949 1329.5,961.6 1330,1010.5 1330.5,997.7 1331,1038.5 1331.5,1051.6 1332,1056.9 1332.5,1043.9 1333,1025.9 1333.5,1038.5 1334,1013.5 1334.5,1001.1 1335,981.4 1335.5,994.3 1336,982.5 1336.5,969.5 1337,962.3 1337.5,975.5 1338,971.4 1338.5,958.2 1339,957.5 1339.5,971 1340,971.4 1340.5,958.8 1341,960.5 1341.5,973.7 1342,975.1 1342.5,962.8 1343,964.9 1343.5,977.8 1344,979.7 1344.5,966.2 1345,966.3 1345.5,980.8 1346,981.4 1346.5,967.3 1347,967.4 1347.5,981.9 1348,982 1348.5,967.7 1349,967.5 1349.5,982 1350,981.8 1350.5,967.2 1351,967.3 1351.5,981.3 1352,980.7 1352.5,967.1 1353,966.9 1353.5,979.5 1354,979.6 1354.5,966.9 1355,966.8 1355.5,980.2 1356,979.9 1356.5,966.9 1357,966.9 1357.5,980.5 1358,979.8 1358.5,967 1359,966.2 1359.5,980.2 1360,980 1360.5,967.2 1361,967.3 1361.5,979.9 1362,979.8 1362.5,967 1363,967.4 1363.5,980.3 1364,980.5 1364.5,967.4 1365,967.2 1365.5,980.7 1366,980.7 1366.5,967.4 1367,967.4 1367.5,980.7 1368,980.5 1368.5,967.4 1369,967.9 1369.5,980.1 1370,979.4 1370.5,967.6 1371,967.9 1371.5,979.2 1372,979.2 1372.5,967.8 1373,967.4 1373.5,979.4 1374,979.3 1374.5,967.4 1375,967.6 1375.5,979.8 1376,980.2 1376.5,967.7 1377,967.3 1377.5,979.5 1378,979.3 1378.5,967.5 1379,967.1 1379.5,979.5 1380,979.4 1380.5,967.6 1381,967.5 1381.5,979.4 1382,979.5 1382.5,967.5 1383,967.3 1383.5,979.5 1384,979.8 1384.5,967.7 1385,967.3 1385.5,979.6 1386,979.7 1386.5,967.9 1387,968.1 1387.5,979.9 1388,979.8 1388.5,967.7 1389,967.6 1389.5,979.8 1390,979.6 1390.5,967.2 1391,967.2 1391.5,980.1 1392,980.2 1392.5,967.2 1393,966.5 1393.5,980.1 1394,979.6 1394.5,967.5 1395,967.6 1395.5,979.7 1396,980.1 1396.5,967.5 1397,967.3 1397.5,980.3 1398,980 1398.5,966.8 1399,966.9 1399.5,979.9 1400,979.6 1400.5,966.8 1401,966.4 1401.5,979.8 1402,979.6 1402.5,966.1 1403,966 1403.5,979.6 1404,979.4 1404.5,965.9 1405,966 1405.5,979.3 1406,979.3 1406.5,966.1 1407,966.4 1407.5,979.7 1408,979.7 1408.5,966.8 1409,966.7 1409.5,979.7 1410,979.5 1410.5,967.2 1411,967.3 1411.5,979.7 1412,979.7 1412.5,967.5 1413,967.4 1413.5,979.6 1414,979.4 1414.5,967.6 1415,967.5 1415.5,981.1 1416,981.8 1416.5,967.3 1417,967.8 1417.5,982.1 1418,982.1 1418.5,967.6 1419,968 1419.5,981.8 1420,981.1 1420.5,968 1421,967.7 1421.5,979.4 1422,979.4 1422.5,967.9 1423,967.9 1423.5,979.3 1424,979.4 1424.5,967.4 1425,967.7 1425.5,980.9 1426,981.6 1426.5,967.8 1427,967.5 1427.5,982.1 1428,982.4 1428.5,967.9 1429,967.7 1429.5,982.4 1430,982.4 1430.5,967.5 1431,967.8 1431.5,982.1 1432,981.6 1432.5,967.4 1433,967 1433.5,980.9 1434,979.8 1434.5,967.1 1435,967 1435.5,979.7 1436,979.6 1436.5,966.9 1437,966.8 1437.5,979.5 1438,979.8 1438.5,966.7 1439,966.8 1439.5,980.2 1440,979.9 1440.5,966.6 1441,967.1 1441.5,980.1 1442,980.6 1442.5,967.4 1443,967.3 1443.5,980.1 1444,980.5 1444.5,967.3 1445,967.2 1445.5,980.5 1446,980.5 1446.5,967.5 1447,967.7 1447.5,980.2 1448,980.2 1448.5,967.3 1449,967.9 1449.5,980.5 1450,980.2 1450.5,967.9 1451,967.8 1451.5,980.7 1452,980.1 1452.5,967.9 1453,967.6 1453.5,980.5 1454,980 1454.5,968 1455,967.7 1455.5,980.2 1456,979.5 1456.5,966.9 1457,966.7 1457.5,979.7 1458,979.9 1458.5,966.7 1459,966.8 1459.5,979.6 1460,979.4 1460.5,967.5 1461,967.2 1461.5,979.2 1462,979.1 1462.5,967.4 1463,967.4 1463.5,979.8 1464,979.3 1464.5,967 1465,967.4 1465.5,979.2 1466,979.2 1466.5,967.1 1467,966.4 1467.5,979.9 1468,979.4 1468.5,966.9 1469,966.7 1469.5,979.2 1470,979.6 1470.5,967 1471,967.1 1471.5,979.3 1472,979.5 1472.5,967 1473,967.2 1473.5,979.5 1474,979.4 1474.5,967.1 1475,966.9 1475.5,980.1 1476,979.7 1476.5,967.4 1477,967.4 1477.5,979.8 1478,979.6 1478.5,967.5 1479,967.7 1479.5,979.6 1480,979.4 1480.5,967.7 1481,967.9 1481.5,979.9 1482,979.4 1482.5,967.6 1483,967.4 1483.5,979.3 1484,979.8 1484.5,967.7 1485,967.8 1485.5,979.8 1486,979.4 1486.5,968.2 1487,968 1487.5,979.2 1488,979.8 1488.5,967.6 1489,967.3 1489.5,979.9 1490,979.5 1490.5,967.8 1491,967.4 1491.5,979.8 1492,979.4 1492.5,967.6 1493,967.7 1493.5,979.6 1494,979.5 1494.5,967.5 1495,967.4 1495.5,979.9 1496,979.3 1496.5,967.8 1497,967.7 1497.5,979.5 1498,979.2 1498.5,967.9 1499,967.7 1499.5,979 1500,979.1 1500.5,967.9 1501,967.8 1501.5,979.2 1502,979.5 1502.5,967.4 1503,967.6 1503.5,979.9 1504,979.3 1504.5,967.8 1505,967.5 1505.5,979.5 1506,979.4 1506.5,967.8 1507,967.6 1507.5,979.6 1508,979.7 1508.5,967.8 1509,967.4 1509.5,979.1 1510,979.1 1510.5,967.6 1511,967.3 1511.5,979.3 1512,979.4 1512.5,967.2 1513,967.4 1513.5,979.8 1514,980.1 1514.5,967.7 1515,967.4 1515.5,979.7 1516,979.2 1516.5,967 1517,967.2 1517.5,979.3 1518,979.4 1518.5,967.2 1519,967.5 1519.5,979 1520,979.1 1520.5,967.6 1521,967.6 1521.5,979 1522,979.2 1522.5,967.9 1523,968 1523.5,979.2 1524,979.8 1524.5,967.4 1525,968.2 1525.5,979 1526,978.8 1526.5,968.1 1527,967.8 1527.5,978.8 1528,978.8 1528.5,967.7 1529,968.1 1529.5,978.8 1530,978.7 1530.5,968.3 1531,968.3 1531.5,979.1 1532,979 1532.5,968 1533,968.3 1533.5,979.5 1534,979.7 1534.5,968.2 1535,968.2 1535.5,979.6 1536,980.6 1536.5,967.5 1537,967.8 1537.5,981.1 1538,981.5 1538.5,967.3 1539,967.6 1539.5,981.6 1540,981.6 1540.5,967.4 1541,967.5 1541.5,981.5 1542,981.1 1542.5,967.4 1543,967.8 1543.5,980.6 1544,980.3 1544.5,967.6 1545,967.1 1545.5,980.2 1546,980.4 1546.5,967.4 1547,967.3 1547.5,980.2 1548,979.6 1548.5,967.1 1549,967 1549.5,979.7 1550,979.7 1550.5,967.4 1551,966.9 1551.5,979.5 1552,979.8 1552.5,966.5 1553,966.2 1553.5,980.1 1554,979.8 1554.5,966.1 1555,966.1 1555.5,979.6 1556,980.1 1556.5,966.2 1557,966.5 1557.5,979.7 1558,979.7 1558.5,966.9 1559,967 1559.5,980.1 1560,979.7 1560.5,967.6 1561,967.5 1561.5,979.8 1562,979.7 1562.5,967.1 1563,967.2 1563.5,980.3 1564,980.1 1564.5,967.4 1565,967.4 1565.5,980.6 1566,979.8 1566.5,966.6 1567,966.7 1567.5,980.2 1568,980.5 1568.5,967.1 1569,967.1 1569.5,980 1570,979.9 1570.5,967.1 1571,967 1571.5,979.8 1572,980 1572.5,967.3 1573,967.2 1573.5,980.2 1574,979.9 1574.5,967.3 1575,967.3 1575.5,980 1576,980.4 1576.5,967.5 1577,966.8 1577.5,979.8 1578,980.4 1578.5,967.3 1579,967.1 1579.5,980 1580,980.3 1580.5,967.2 1581,967 1581.5,979.8 1582,980 1582.5,967.2 1583,967.2 1583.5,979.8 1584,979.9 1584.5,967.1 1585,966.7 1585.5,980.5 1586,979.9 1586.5,967.3 1587,967.4 1587.5,979.6 1588,979.6 1588.5,967.3 1589,967.1 1589.5,979.8 1590,979.5 1590.5,967.3 1591,967.2 1591.5,979.6 1592,979.3 1592.5,967.2 1593,967.6 1593.5,979.2 1594,979.6 1594.5,967.7 1595,967.5 1595.5,979.2 1596,979.5 1596.5,967.2 1597,966.7 1597.5,979.3 1598,979.2 1598.5,966.3 1599,966 1599.5,979.7 1600,979.7 1600.5,965.8 1601,965.7 1601.5,979.6 1602,979.5 1602.5,965.8 1603,966 1603.5,980 1604,979.5 1604.5,966.3 1605,966.7 1605.5,979.8 1606,979.7 1606.5,967.3 1607,967.3 1607.5,979.6 1608,980.8 1608.5,967.4 1609,966.9 1609.5,981.5 1610,982 1610.5,967.4 1611,967.8 1611.5,982.2 1612,982.3 1612.5,967.7 1613,967.6 1613.5,982.2 1614,982 1614.5,967.7 1615,967.4 1615.5,981.5 1616,981.6 1616.5,967.1 1617,967.5 1617.5,981.6 1618,981.1 1618.5,967.4 1619,967.3 1619.5,979.8 1620,979.5 1620.5,967.8 1621,967.8 1621.5,980.1 1622,979.4 1622.5,967.5 1623,967.6 1623.5,979.7 1624,979.5 1624.5,967.8 1625,967.2 1625.5,979.5 1626,979.8 1626.5,967.3 1627,967.5 1627.5,979.6 1628,980 1628.5,966.5 1629,966 1629.5,979.8 1630,979.6 1630.5,965.7 1631,965.7 1631.5,980.1 1632,979.9 1632.5,966 1633,966.5 1633.5,979.8 1634,980 1634.5,966.6 1635,966.5 1635.5,980.9 1636,981.6 1636.5,966.4 1637,966.5 1637.5,982 1638,982.1 1638.5,966.6 1639,967 1639.5,982 1640,981.6 1640.5,967.2 1641,967.5 1641.5,980.9 1642,980 1642.5,967.3 1643,967.6 1643.5,980.2 1644,979.8 1644.5,967.9 1645,967.9 1645.5,979.9 1646,980.1 1646.5,968 1647,967.9 1647.5,979.7 1648,979.8 1648.5,967.5 1649,967.7 1649.5,979.2 1650,979.2 1650.5,967.6 1651,967.9 1651.5,978.9 1652,979.7 1652.5,967.1 1653,967.6 1653.5,980.9 1654,981.6 1654.5,967.3 1655,967 1655.5,981.9 1656,982.1 1656.5,967.2 1657,967.7 1657.5,981.9 1658,981.6 1658.5,967.7 1659,967.3 1659.5,980.9 1660,979.4 1660.5,967.3 1661,967.6 1661.5,979.6 1662,980 1662.5,967.4 1663,967.6 1663.5,979.6 1664,980.1 1664.5,967.5 1665,967.4 1665.5,979.7 1666,1103.6 1666.5,1091.6 1667,1163.6 1667.5,1176 1668,1221.4 1668.5,1208.7 1669,1238.1 1669.5,1250.6 1670,1243.3 1670.5,1230.6 1671,1208.3 1671.5,1221.2 1672,1197.6 1672.5,1184.9 1673,1168.4 1673.5,1181 1674,1171 1674.5,1158.1 1675,1151.4 1675.5,1164.1 1676,1160.3 1676.5,1147.2 1677,1147.5 1677.5,1160.8 1678,1162.5 1678.5,1149.8 1679,1152 1679.5,1165.1 1680,1168.5 1680.5,1154.3 1681,1156.3 1681.5,1170.2 1682,1171.7 1682.5,1158 1683,1159.4 1683.5,1173 1684,1173.4 1684.5,1160.5 1685,1160.9 1685.5,1173.7 1686,1173.1 1686.5,1161 1687,1161.1 1687.5,1173.5 1688,1173.7 1688.5,1161.6 1689,1161.7 1689.5,1173.4 1690,1173.5 1690.5,1161.9 1691,1162 1691.5,1173.3 1692,1173.1 1692.5,1161.7 1693,1161.9 1693.5,1173.1 1694,1173.1 1694.5,1161.3 1695,1161.7 1695.5,1174.5 1696,1175 1696.5,1161.6 1697,1161.9 1697.5,1175.2 1698,1175 1698.5,1161.8 1699,1161.8 1699.5,1174.5 1700,1174.2 1700.5,1161.1 1701,1161.6 1701.5,1174.1 1702,1173.9 1702.5,1161.2 1703,1161.1 1703.5,1173.8 1704,1173.7 1704.5,1161.3 1705,1161.2 1705.5,1173.8 1706,1174 1706.5,1161.4 1707,1161.3 1707.5,1173.7 1708,1173.8 1708.5,1161.4 1709,1160.4 1709.5,1173.8 1710,1173.9 1710.5,1159.9 1711,1159.5 1711.5,1174.3 1712,1174.2 1712.5,1159.4 1713,1159.3 1713.5,1174.4 1714,1174.5 1714.5,1159.4 1715,1159.5 1715.5,1174.2 1716,1173.7 1716.5,1159.9 1717,1160.4 1717.5,1173.8 1718,1173.5 1718.5,1161 1719,1160.7 1719.5,1173.7 1720,1173.4 1720.5,1161 1721,1160.9 1721.5,1174 1722,1173.4 1722.5,1161.1 1723,1160.9 1723.5,1173.7 1724,1173.4 1724.5,1161 1725,1160.5 1725.5,1173.6 1726,1173.2 1726.5,1161 1727,1161.1 1727.5,1173 1728,1173.1 1728.5,1161.3 1729,1161.1 1729.5,1173.4 1730,1173.2 1730.5,1161.5 1731,1161.3 1731.5,1173.2 1732,1173.8 1732.5,1161 1733,1161.1 1733.5,1174 1734,1173.3 1734.5,1161.2 1735,1161.3 1735.5,1173.5 1736,1173.4 1736.5,1161.4 1737,1161.4 1737.5,1173.3 1738,1173.2 1738.5,1161.4 1739,1161.4 1739.5,1173.7 1740,1173.7 1740.5,1160.7 1741,1160.8 1741.5,1173.3 1742,1174 1742.5,1161 1743,1161.2 1743.5,1174.5 1744,1174.7 1744.5,1161.2 1745,1161.3 1745.5,1174.8 1746,1174.7 1746.5,1161.3 1747,1161.3 1747.5,1174.5 1748,1174 1748.5,1161 1749,1160.6 1749.5,1173.1 1750,1173.2 1750.5,1161.2 1751,1160.9 1751.5,1173.2 1752,1172.6 1752.5,1161.2 1753,1161.3 1753.5,1172.8 1754,1173.3 1754.5,1161.3 1755,1161.3 1755.5,1173 1756,1173.8 1756.5,1161.1 1757,1161.1 1757.5,1172.9 1758,1173 1758.5,1161.3 1759,1160.7 1759.5,1173.7 1760,1173.2 1760.5,1161.6 1761,1161.6 1761.5,1173.6 1762,1173.7 1762.5,1160.8 1763,1160.8 1763.5,1174 1764,1174.6 1764.5,1160.6 1765,1160.4 1765.5,1175.3 1766,1175.8 1766.5,1160.4 1767,1160.4 1767.5,1176 1768,1176 1768.5,1160.6 1769,1160.8 1769.5,1175.8 1770,1175.3 1770.5,1161.4 1771,1160.8 1771.5,1174.6 1772,1173.5 1772.5,1160.8 1773,1161.2 1773.5,1173.3 1774,1173.3 1774.5,1161.2 1775,1161.3 1775.5,1173.6 1776,1173.7 1776.5,1161.2 1777,1161.2 1777.5,1174.1 1778,1173.4 1778.5,1161.2 1779,1161.1 1779.5,1173.3 1780,1174 1780.5,1161.4 1781,1161.2 1781.5,1173.6 1782,1173.7 1782.5,1161.1 1783,1161.4 1783.5,1174 1784,1173.7 1784.5,1161.7 1785,1161.5 1785.5,1174.4 1786,1173.7 1786.5,1161.7 1787,1161 1787.5,1174.5 1788,1173.5 1788.5,1161.5 1789,1161.3 1789.5,1173.6 1790,1174 1790.5,1161.5 1791,1161.3 1791.5,1173.6 1792,1174.7 1792.5,1161.2 1793,1161.3 1793.5,1175.3 1794,1175.5 1794.5,1160.7 1795,1161.1 1795.5,1175.3 1796,1174.7 1796.5,1160.5 1797,1160.7 1797.5,1173.2 1798,1173.6 1798.5,1160.6 1799,1160.5 1799.5,1173.1 1800,1173 1800.5,1160.9 1801,1160.6 1801.5,1173.3 1802,1173.4 1802.5,1160.2 1803,1160.8 1803.5,1174 1804,1173.7 1804.5,1160.3 1805,1160.4 1805.5,1173.3 1806,1173.5 1806.5,1160.9 1807,1160.7 1807.5,1173.7 1808,1173.6 1808.5,1161.2 1809,1160.5 1809.5,1173.2 1810,1173.3 1810.5,1160.8 1811,1161 1811.5,1173.1 1812,1173.5 1812.5,1161.3 1813,1161.3 1813.5,1173.2 1814,1173.2 1814.5,1161.2 1815,1160.9 1815.5,1173.1 1816,1173 1816.5,1161 1817,1161.2 1817.5,1173.1 1818,1173 1818.5,1161.1 1819,1160.9 1819.5,1173.4 1820,1173 1820.5,1160.5 1821,1160.5 1821.5,1173.5 1822,1173.1 1822.5,1160.5 1823,1160.5 1823.5,1173.4 1824,1173.5 1824.5,1160.7 1825,1160.9 1825.5,1173.4 1826,1173.7 1826.5,1161.1 1827,1161.5 1827.5,1173.9 1828,1175.4 1828.5,1161.7 1829,1161 1829.5,1176.2 1830,1176.2 1830.5,1161 1831,1161.5 1831.5,1175.5 1832,1175.5 1832.5,1161 1833,1161.4 1833.5,1175.2 1834,1174.6 1834.5,1161.5 1835,1161.6 1835.5,1173.9 1836,1173.4 1836.5,1161.6 1837,1161.3 1837.5,1173.3 1838,1173.2 1838.5,1161.5 1839,1161 1839.5,1173.7 1840,1173.5 1840.5,1161.3 1841,1161 1841.5,1173.9 1842,1173.7 1842.5,1161.2 1843,1161 1843.5,1173.1 1844,1173.3 1844.5,1161.2 1845,1161.3 1845.5,1173.8 1846,1173.2 1846.5,1161.3 1847,1160.9 1847.5,1173.3 1848,1172.9 1848.5,1161.3 1849,1160.6 1849.5,1173.6 1850,1173.1 1850.5,1161.1 1851,1160.3 1851.5,1173.1 1852,1173.6 1852.5,1161.4 1853,1161.4 1853.5,1173.6 1854,1173.6 1854.5,1160.9 1855,1161.4 1855.5,1173.2 1856,1173.1 1856.5,1161.3 1857,1160.7 1857.5,1173.4 1858,1173.2 1858.5,1161.4 1859,1160.7 1859.5,1173 1860,1172.9 1860.5,1160.9 1861,1161.2 1861.5,1173.2 1862,1173.1 1862.5,1161.1 1863,1161 1863.5,1173.2 1864,1172.8 1864.5,1161.3 1865,1161.4 1865.5,1173 1866,1173.4 1866.5,1161.2 1867,1160.8 1867.5,1173.2 1868,1173.4 1868.5,1161.3 1869,1160.9 1869.5,1173.1 1870,1173.4 1870.5,1160.5 1871,1160.8 1871.5,1172.9 1872,1173.1 1872.5,1160.5 1873,1160.8 1873.5,1172.8 1874,1173.1 1874.5,1161.3 1875,1161.3 1875.5,1173.2 1876,1173.2 1876.5,1161 1877,1160.9 1877.5,1173.4 1878,1173.4 1878.5,1161.3 1879,1161.1 1879.5,1173.3 1880,1173.6 1880.5,1161.1 1881,1160.9 1881.5,1173.1 1882,1173 1882.5,1160.4 1883,1161.2 1883.5,1172.9 1884,1173 1884.5,1160.9 1885,1161.5 1885.5,1173.1 1886,1173.4 1886.5,1161.6 1887,1161.6 1887.5,1173 1888,1173.1 1888.5,1161.2 1889,1161.8 1889.5,1173.2 1890,1173.9 1890.5,1161.2 1891,1160.7 1891.5,1173.4 1892,1173.3 1892.5,1161.3 1893,1161.1 1893.5,1173.5 1894,1173.6 1894.5,1161.7 1895,1161.4 1895.5,1173.8 1896,1173.5 1896.5,1161.6 1897,1161 1897.5,1173.6 1898,1173.4 1898.5,1161.2 1899,1161.1 1899.5,1173.4 1900,1173.1 1900.5,1161 1901,1160.6 1901.5,1173.2 1902,1173.3 1902.5,1161 1903,1160.5 1903.5,1173.3 1904,1172.9 1904.5,1160.3 1905,1161 1905.5,1172.9 1906,1173.4 1906.5,1161.1 1907,1161 1907.5,1174.4 1908,1174.9 1908.5,1160.5 1909,1160.7 1909.5,1175.2 1910,1175.2 1910.5,1160.9 1911,1161 1911.5,1174.9 1912,1174.4 1912.5,1161.3 1913,1161.2 1913.5,1173.1 1914,1173 1914.5,1161.5 1915,1161.6 1915.5,1173 1916,1173.1 1916.5,1161.4 1917,1161.6 1917.5,1173.2 1918,1173.3 1918.5,1161.8 1919,1161.4 1919.5,1173.3 1920,1173.3 1920.5,1160.9 1921,1161.2 1921.5,1173.4 1922,1172.9 1922.5,1161.3 1923,1161 1923.5,1173.1 1924,1173.8 1924.5,1160.9 1925,1161 1925.5,1174.2 1926,1174.4 1926.5,1160.9 1927,1160.4 1927.5,1174.6 1928,1174.6 1928.5,1160.6 1929,1160.7 1929.5,1174.6 1930,1174.4 1930.5,1160.5 1931,1160.5 1931.5,1174.2 1932,1173.8 1932.5,1160.7 1933,1160.5 1933.5,1173.1 1934,1173.9 1934.5,1160.6 1935,1160.5 1935.5,1174.3 1936,1174.5 1936.5,1159.9 1937,1159.8 1937.5,1174.7 1938,1174.7 1938.5,1160.8 1939,1161 1939.5,1174.7 1940,1174.5 1940.5,1160.7 1941,1160.6 1941.5,1174.3 1942,1173.9 1942.5,1160.5 1943,1160.5 1943.5,1173.6 1944,1173.5 1944.5,1160.8 1945,1161 1945.5,1173.3 1946,1173.5 1946.5,1161.1 1947,1161.3 1947.5,1173.4 1948,1173.5 1948.5,1161.4 1949,1161.8 1949.5,1173.2 1950,1173.2 1950.5,1161.2 1951,1161.3 1951.5,1173.7 1952,1173.6 1952.5,1161.1 1953,1161.4 1953.5,1173.9 1954,1173.5 1954.5,1161.1 1955,1161.5 1955.5,1174.2 1956,1173.7 1956.5,1161.1 1957,1161.7 1957.5,1173.7 1958,1173.6 1958.5,1161.1 1959,1161.7 1959.5,1173.7 1960,1173.8 1960.5,1161.3 1961,1161.1 1961.5,1173.5 1962,1173.5 1962.5,1161.1 1963,1161.4 1963.5,1174.6 1964,1175 1964.5,1161.8 1965,1161.8 1965.5,1175 1966,1174.6 1966.5,1161.5 1967,1161.5 1967.5,1173.6 1968,1173.4 1968.5,1161.1 1969,1161.3 1969.5,1173.3 1970,1173.1 1970.5,1161 1971,1161.1 1971.5,1173.2 1972,1173.6 1972.5,1161.2 1973,1161 1973.5,1173.1 1974,1173.9 1974.5,1161.1 1975,1160.8 1975.5,1173.6 1976,1173.5 1976.5,1161.2 1977,1161.3 1977.5,1173.8 1978,1174.6 1978.5,1161 1979,1160.8 1979.5,1174.2 1980,1173.7 1980.5,1160.2 1981,1161.2 1981.5,1175 1982,1175.8 1982.5,1160.7 1983,1160.8 1983.5,1176.2 1984,1176.2 1984.5,1160.4 1985,1161.3 1985.5,1176.3 1986,1176.3 1986.5,1160.9 1987,1160.5 1987.5,1175.9 1988,1175.1 1988.5,1160.7 1989,1160.5 1989.5,1174.8 1990,1174.3 1990.5,1160.3 1991,1160.2 1991.5,1173.8 1992,1173.5 1992.5,1160.3 1993,1160.5 1993.5,1173.8 1994,1174 1994.5,1160.7 1995,1161.2 1995.5,1173.8 1996,1173.3 1996.5,1161.5 1997,1160.5 1997.5,1174 1998,1173.5 1998.5,1161.7 1999,1161.4 1999.5,1174.1 2000,1173.7 2000.5,1161.5 2001,1161.2 2001.5,1173.6 2005,1160.9 2005,1173.9"/>
<polyline stroke="#6072ff" stroke-width="8" points="319,1408 319,1215.3 319,1188.5 319.5,1200.4 320,1187.5 320.5,1175.8 321,1167.4 321.5,1179.3 322,1180.2 322.5,1167.9 323,1177.5 323.5,1189.7 324,1202.4 324.5,1189.8 325,1200 325.5,1212 326,1218.1 326.5,1205.1 327,1207.6 327.5,1219.9 328,1220.9 328.5,1208.1 329,1208.2 329.5,1221.4 330,1221.2 330.5,1208.1 331,1208.2 331.5,1221.6 332,1221.1 332.5,1207.8 333,1208.2 333.5,1221.3 334,1221.4 334.5,1208 335,1207.6 335.5,1221.2 336,1221.4 336.5,1208.1 337,1207.6 337.5,1221.4 338,1221.6 338.5,1207.8 339,1207.7 339.5,1221.5 340,1221.6 340.5,1208.4 341,1208.2 341.5,1221.6 342,1221.6 342.5,1208.6 343,1208.7 343.5,1221.5 344,1221.7 344.5,1208.8 345,1208.2 345.5,1221.7 346,1222.2 346.5,1208.8 347,1209 347.5,1221.6 348,1222.4 348.5,1208.8 349,1208.5 349.5,1221.8 350,1222 350.5,1208.8 351,1208.7 351.5,1221.5 352,1221.9 352.5,1208.7 353,1208.7 353.5,1221.5 354,1221.6 354.5,1208.6 355,1208.7 355.5,1221.2 356,1221.4 356.5,1208.5 357,1208.7 357.5,1222.5 358,1221.5 358.5,1208.8 359,1208.7 359.5,1221.7 360,1221.6 360.5,1208.7 361,1208.1 361.5,1221.7 362,1221.6 362.5,1208.5 363,1207.8 363.5,1221.6 364,1221.5 364.5,1207 365,1206.1 365.5,1221.9 366,1221.6 366.5,1203.3 367,1201.5 367.5,1221.6 368,1221.6 368.5,1201 369,1201.6 369.5,1222 370,1221.7 370.5,1202.9 371,1204.2 371.5,1221.6 372,1221.3 372.5,1205.5 373,1206.6 373.5,1221.8 374,1221.2 374.5,1205.9 375,1205 375.5,1221.1 376,1221.5 376.5,1205 377,1205.9 377.5,1221.2 378,1221.1 378.5,1206.8 379,1206.4 379.5,1221.2 380,1221.7 380.5,1206.2 381,1205.9 381.5,1220.7 382,1221.2 382.5,1205.7 383,1205.7 383.5,1220.9 384,1220.9 384.5,1205.9 385,1206 385.5,1220.8 386,1220.6 386.5,1205.7 387,1205.7 387.5,1220.9 388,1221.3 388.5,1205.7 389,1206 389.5,1220.8 390,1221 390.5,1206.5 391,1206.3 391.5,1221 392,1221 392.5,1206.2 393,1206.3 393.5,1221 394,1220.7 394.5,1206.7 395,1207.3 395.5,1220.7 396,1220.6 396.5,1208.5 397,1208.5 397.5,1220.7 398,1220.8 398.5,1207.9 399,1208.4 399.5,1220.6 400,1220.5 400.5,1208.5 401,1208.4 401.5,1220.5 402,1220.6 402.5,1208.5 403,1208.6 403.5,1220.7 404,1220.8 404.5,1208.2 405,1208.7 405.5,1221 406,1221 406.5,1208.6 407,1208.5 407.5,1220.9 408,1220.9 408.5,1208.7 409,1209 409.5,1221.9 410,1221.4 410.5,1208.9 411,1209 411.5,1221.2 412,1221.1 412.5,1209.1 413,1209.3 413.5,1221.1 414,1221.6 414.5,1209.1 415,1209 415.5,1221.4 416,1221.4 416.5,1209.2 417,1208.6 417.5,1221.7 418,1221.4 418.5,1208.7 419,1209.1 419.5,1221.5 420,1221.5 420.5,1208.9 421,1209 421.5,1221.2 422,1221.5 422.5,1208.2 423,1208.5 423.5,1220.9 424,1221.3 424.5,1208.6 425,1208.6 425.5,1221.4 426,1221.5 426.5,1207.3 427,1206.6 427.5,1221.5 428,1221.5 428.5,1206.2 429,1206 429.5,1221.1 430,1221.4 430.5,1206 431,1206.2 431.5,1220.8 432,1221.3 432.5,1206.6 433,1207.3 433.5,1220.9 434,1221.1 434.5,1207.7 435,1207.4 435.5,1221.6 436,1221.7 436.5,1206.9 437,1206.8 437.5,1221.2 438,1220.9 438.5,1206.9 439,1207.4 439.5,1221 440,1221 440.5,1208 441,1208.3 441.5,1221.2 442,1221.1 442.5,1207.6 443,1207.8 443.5,1221.8 444,1221.1 444.5,1208.3 445,1207.7 445.5,1221.3 446,1222.3 446.5,1208.3 447,1208.2 447.5,1221.5 448,1221.4 448.5,1208.6 449,1208.5 449.5,1221.2 450,1222.7 450.5,1208.6 451,1208.8 451.5,1223.4 452,1223.9 452.5,1208.4 453,1208.6 453.5,1224.1 454,1224.1 454.5,1208.5 455,1209.1 455.5,1223.9 456,1223.4 456.5,1209.1 457,1209.1 457.5,1222.7 458,1221.2 458.5,1208.8 459,1208.8 459.5,1221 460,1221.2 460.5,1208.8 461,1208.8 461.5,1221.2 462,1221 462.5,1208.4 463,1208.5 463.5,1221.4 464,1221.5 464.5,1208.4 465,1208.2 465.5,1221.6 466,1221.5 466.5,1208.5 467,1208 467.5,1221.4 468,1221.6 468.5,1207.9 469,1206.8 469.5,1221.5 470,1221.7 470.5,1205.9 471,1205.1 471.5,1221.8 472,1221.5 472.5,1205 473,1205.3 473.5,1221.5 474,1221.4 474.5,1206.3 475,1206.8 475.5,1221.2 476,1221.4 476.5,1207.5 477,1207.5 477.5,1221.8 478,1221.8 478.5,1207.7 479,1207.6 479.5,1222.1 480,1222.7 480.5,1207.8 481,1207.6 481.5,1223.5 482,1224.1 482.5,1207.6 483,1207.9 483.5,1224.4 484,1224.5 484.5,1207.9 485,1207.7 485.5,1224.4 486,1224.1 486.5,1208.1 487,1208.4 487.5,1223.5 488,1222.7 488.5,1208.2 489,1208 489.5,1221.9 490,1221.6 490.5,1208.1 491,1208.1 491.5,1221.3 492,1222.7 492.5,1208.4 493,1208 493.5,1223.3 494,1223.5 494.5,1207.9 495,1207.9 495.5,1223.3 496,1222.7 496.5,1208.1 497,1208.3 497.5,1221 498,1220.8 498.5,1208.5 499,1208.2 499.5,1221.5 500,1220.8 500.5,1208.2 501,1208.3 501.5,1220.8 502,1220.9 502.5,1208.5 503,1208.5 503.5,1220.7 504,1220.7 504.5,1208.7 505,1208.3 505.5,1220.9 506,1220.6 506.5,1208.4 507,1208.5 507.5,1220.9 508,1221.4 508.5,1208.4 509,1207.9 509.5,1221.3 510,1221.1 510.5,1208 511,1207.8 511.5,1221 512,1221.3 512.5,1207.7 513,1207.1 513.5,1221.2 514,1220.9 514.5,1206.4 515,1205.5 515.5,1220.6 516,1221 516.5,1203.9 517,1202.4 517.5,1222.8 518,1223.5 518.5,1201 519,1199.9 519.5,1223.7 520,1223.5 520.5,1199.1 521,1198.7 521.5,1222.8 522,1221 522.5,1197.9 523,1197.8 523.5,1220.7 524,1220.9 524.5,1198.6 525,1200.2 525.5,1221.3 526,1221.6 526.5,1203 527,1204.1 527.5,1221.2 528,1221 528.5,1204.9 529,1206 529.5,1221.3 530,1220.9 530.5,1206.5 531,1206.6 531.5,1220.9 532,1220.8 532.5,1206.9 533,1207.8 533.5,1221.2 534,1220.9 534.5,1208 535,1208 535.5,1220.8 536,1220.8 536.5,1208 537,1207.7 537.5,1220.9 538,1221.1 538.5,1207.3 539,1207.9 539.5,1220.9 540,1221.7 540.5,1207.5 541,1207.5 541.5,1221 542,1221 542.5,1207.9 543,1208.1 543.5,1221.3 544,1222 544.5,1207.9 545,1207.8 545.5,1222.5 546,1222.8 546.5,1207.9 547,1207.9 547.5,1223 548,1223.1 548.5,1206.9 549,1206.2 549.5,1223 550,1222.8 550.5,1205.9 551,1206.2 551.5,1222.5 552,1222 552.5,1206.1 553,1205.1 553.5,1221.9 554,1221.4 554.5,1204.8 555,1205.1 555.5,1221.4 556,1221.3 556.5,1206.1 557,1208.6 557.5,1221.3 558,1221.6 558.5,1208.3 559,1208.6 559.5,1221.2 560,1221.2 560.5,1206.3 561,1205.5 561.5,1221 562,1221.2 562.5,1205.2 563,1205.5 563.5,1221.3 564,1221 564.5,1206.3 565,1208.6 565.5,1221.7 566,1221.4 566.5,1208.1 567,1208.6 567.5,1221.7 568,1221.6 568.5,1208.1 569,1207.6 569.5,1221.2 570,1221.2 570.5,1208.7 571,1208.5 571.5,1221.1 572,1221.4 572.5,1207 573,1206.4 573.5,1221.5 574,1221.8 574.5,1206 575,1206 575.5,1221.6 576,1221.4 576.5,1206.4 577,1207 577.5,1221.4 578,1221.7 578.5,1208.5 579,1208.4 579.5,1221.4 580,1222.7 580.5,1208.2 581,1206.8 581.5,1223.4 582,1223.9 582.5,1205.9 583,1205.4 583.5,1224.1 584,1224.1 584.5,1205.2 585,1205.2 585.5,1223.9 586,1223.4 586.5,1205.4 587,1205.9 587.5,1222.7 588,1221.1 588.5,1206.8 589,1208.6 589.5,1221.5 590,1221.7 590.5,1208.5 591,1208.3 591.5,1221.6 592,1221.5 592.5,1208.4 593,1208.9 593.5,1221.5 594,1221.4 594.5,1208.8 595,1208.9 595.5,1221.4 596,1222.1 596.5,1207.9 597,1208.6 597.5,1221.4 598,1221.7 598.5,1208.7 599,1208.6 599.5,1221.5 600,1221.3 600.5,1207.1 601,1206.4 601.5,1222 602,1221.4 602.5,1205.9 603,1205.2 603.5,1221.7 604,1221.9 604.5,1205.2 605,1205.7 605.5,1221.5 606,1221.2 606.5,1205.9 607,1206.4 607.5,1221.1 608,1221.5 608.5,1207.1 609,1207.4 609.5,1221.4 610,1221.5 610.5,1207.7 611,1208.1 611.5,1221.4 612,1221.5 612.5,1208.1 613,1208.2 613.5,1221.6 614,1221.8 614.5,1208.5 615,1208.6 615.5,1221.5 616,1221.7 616.5,1208.7 617,1208.8 617.5,1221.6 618,1221.4 618.5,1208.9 619,1208.4 619.5,1221.2 620,1221.2 620.5,1208.6 621,1208.8 621.5,1221.5 622,1221.4 622.5,1208.7 623,1209 623.5,1221.1 624,1221.5 624.5,1208.7 625,1208.9 625.5,1221.3 626,1221.1 626.5,1209.1 627,1209 627.5,1221.4 628,1221.8 628.5,1208.6 629,1207.1 629.5,1221.5 630,1221.3 630.5,1206.6 631,1206.4 631.5,1221.3 632,1221.4 632.5,1206.6 633,1207.1 633.5,1221.2 634,1221.7 634.5,1208.6 635,1208.3 635.5,1221.6 636,1221.4 636.5,1208.9 637,1208.5 637.5,1221.6 638,1221.1 638.5,1208.2 639,1208.3 639.5,1220.9 640,1220.9 640.5,1208.2 641,1207.9 641.5,1220.8 642,1220.9 642.5,1208.4 643,1208.2 643.5,1221.2 644,1220.6 644.5,1208.4 645,1208.5 645.5,1221 646,1220.8 646.5,1208.1 647,1208.3 647.5,1221.4 648,1220.7 648.5,1207.9 649,1208.5 649.5,1221.2 650,1220.9 650.5,1208.4 651,1208.2 651.5,1221.1 652,1204.9 652.5,1192.4 653,1137.6 653.5,1150.3 654,1096.3 654.5,1083.3 655,1032.1 655.5,1045.1 656,1033.8 656.5,1020.4 657,1016.5 657.5,1029.8 658,1028.3 658.5,1015.2 659,1015.1 659.5,1028.1 660,1027.7 660.5,1013.7 661,1013.1 661.5,1027.5 662,1029.6 662.5,1012.7 663,1012.6 663.5,1030.4 664,1030.4 664.5,1012.7 665,1013.1 665.5,1029.6 666,1027.3 666.5,1013.6 667,1014.4 667.5,1027.2 668,1027.7 668.5,1014.4 669,1014.4 669.5,1027.1 670,1027.3 670.5,1014.5 671,1014.6 671.5,1027.2 672,1026.8 672.5,1014.4 673,1014.5 673.5,1026.8 674,1027 674.5,1014.4 675,1014.5 675.5,1026.9 676,1027.2 676.5,1014.6 677,1014.5 677.5,1027.1 678,1027.6 678.5,1014.4 679,1014.4 679.5,1027.1 680,1027.2 680.5,1014 681,1014.6 681.5,1026.9 682,1027.1 682.5,1014.8 683,1014.4 683.5,1027.3 684,1027.3 684.5,1015 685,1014.6 685.5,1027.2 686,1027.6 686.5,1014.9 687,1014.9 687.5,1027.8 688,1028.5 688.5,1013.4 689,1012.8 689.5,1029 690,1029.4 690.5,1012.4 691,1012.3 691.5,1029.6 692,1029.7 692.5,1012.4 693,1012.8 693.5,1029.6 694,1029.4 694.5,1013.4 695,1014.9 695.5,1029 696,1028.5 696.5,1015 697,1014.7 697.5,1028.6 698,1028.7 698.5,1015 699,1014.9 699.5,1028 700,1028 700.5,1014.6 701,1014.8 701.5,1028.1 702,1028.1 702.5,1014.4 703,1014.2 703.5,1028.2 704,1027.5 704.5,1014.1 705,1013.1 705.5,1028.8 706,1029.3 706.5,1012.3 707,1011.7 707.5,1029.5 708,1029.3 708.5,1011.4 709,1011.3 709.5,1028.8 710,1027.3 710.5,1011.4 711,1011.7 711.5,1027.5 712,1027.2 712.5,1012.3 713,1012.3 713.5,1027.2 714,1027.2 714.5,1012.3 715,1012.6 715.5,1027 716,1027 716.5,1013.3 717,1014.2 717.5,1027.7 718,1027.5 718.5,1014.4 719,1014.7 719.5,1027.4 720,1028.1 720.5,1014.5 721,1014.7 721.5,1027.5 722,1027.4 722.5,1014.4 723,1014.6 723.5,1027.1 724,1027.5 724.5,1014.1 725,1014.3 725.5,1027.4 726,1027.4 726.5,1014.4 727,1014.4 727.5,1027.5 728,1027.2 728.5,1013.9 729,1014.2 729.5,1027.4 730,1027.7 730.5,1014.6 731,1014.3 731.5,1027.4 732,1027.3 732.5,1014.7 733,1014.7 733.5,1027.5 734,1027.9 734.5,1014.3 735,1013.9 735.5,1027.8 736,1027.5 736.5,1014.7 737,1014.3 737.5,1028.1 738,1027.9 738.5,1014.6 739,1014.7 739.5,1027.7 740,1027.7 740.5,1014.3 741,1014.7 741.5,1027.7 742,1027.6 742.5,1014.4 743,1014.5 743.5,1027.4 744,1027.5 744.5,1014.6 745,1015 745.5,1027.3 746,1027.4 746.5,1014.7 747,1014.7 747.5,1027.3 748,1028 748.5,1014.8 749,1014.9 749.5,1027.5 750,1027.2 750.5,1013.8 751,1013.3 751.5,1027.2 752,1026.8 752.5,1013.1 753,1013.1 753.5,1027 754,1027 754.5,1013.3 755,1013.8 755.5,1026.6 756,1026.8 756.5,1013.2 757,1012.4 757.5,1027 758,1026.6 758.5,1012 759,1011.8 759.5,1027 760,1027.2 760.5,1012 761,1012.4 761.5,1026.9 762,1026.9 762.5,1013.2 763,1014.3 763.5,1027 764,1027.2 764.5,1014.4 765,1014.7 765.5,1027.5 766,1027.6 766.5,1014.8 767,1014.6 767.5,1027.8 768,1027.7 768.5,1014.6 769,1014.8 769.5,1028.1 770,1027.7 770.5,1014.5 771,1014.6 771.5,1028.2 772,1027.7 772.5,1014.3 773,1013.3 773.5,1027.8 774,1027.5 774.5,1012.7 775,1012.3 775.5,1027.7 776,1027.7 776.5,1012.3 777,1012.7 777.5,1029.2 778,1029.9 778.5,1013.3 779,1014.3 779.5,1030.3 780,1030.3 780.5,1014.3 781,1014.2 781.5,1029.9 782,1029.2 782.5,1014.9 783,1014.5 783.5,1027.5 784,1028.2 784.5,1014.6 785,1014.7 785.5,1028.1 786,1028.7 786.5,1014.8 787,1014.8 787.5,1029.2 788,1029.2 788.5,1015.2 789,1014.9 789.5,1028.7 790,1029.5 790.5,1012.7 791,1011.9 791.5,1030.4 792,1030.8 792.5,1011.9 793,1012.7 793.5,1030.8 794,1030.4 794.5,1014.9 795,1014.9 795.5,1029.5 796,1028.4 796.5,1014.7 797,1014.8 797.5,1028.4 798,1028.2 798.5,1015 799,1015.1 799.5,1028.3 800,1028.5 800.5,1015.2 801,1014.9 801.5,1028.1 802,1028.2 802.5,1012.4 803,1011.4 803.5,1028.1 804,1028 804.5,1011.1 805,1011.4 805.5,1028.1 806,1027.7 806.5,1012.4 807,1014.9 807.5,1027.6 808,1027.6 808.5,1015 809,1014.8 809.5,1027.7 810,1028.5 810.5,1014.8 811,1014.7 811.5,1028 812,1027.9 812.5,1015.2 813,1014.9 813.5,1027.9 814,1028.2 814.5,1014.4 815,1015.2 815.5,1027.9 816,1028.5 816.5,1015 817,1015 817.5,1028.2 818,1028.1 818.5,1015 819,1015 819.5,1028.1 820,1027.9 820.5,1014.7 821,1014.7 821.5,1028.3 822,1027.8 822.5,1014.6 823,1015 823.5,1027.9 824,1027.6 824.5,1015.1 825,1014.9 825.5,1027.8 826,1027.6 826.5,1014.5 827,1015 827.5,1027.7 828,1028 828.5,1015.2 829,1015 829.5,1027.7 830,1027.9 830.5,1014.9 831,1013.3 831.5,1027.4 832,1026.9 832.5,1012.6 833,1012.2 833.5,1027.2 834,1026.9 834.5,1011.8 835,1011.5 835.5,1027.2 836,1027.3 836.5,1011.8 837,1012.6 837.5,1027.2 838,1027.5 838.5,1013.3 839,1014.5 839.5,1027.8 840,1028 840.5,1014.3 841,1014.6 841.5,1027.6 842,1027.8 842.5,1014.2 843,1014.4 843.5,1028 844,1027.9 844.5,1013 845,1012.2 845.5,1027.9 846,1028.2 846.5,1012 847,1012.2 847.5,1028.2 848,1028.3 848.5,1013 849,1014.9 849.5,1028.6 850,1028 850.5,1013 851,1012.2 851.5,1028 852,1027.7 852.5,1011.6 853,1011.2 853.5,1027.9 854,1027.6 854.5,1011.1 855,1011.2 855.5,1027.2 856,1027.2 856.5,1011.6 857,1012.2 857.5,1027.8 858,1027.2 858.5,1013 859,1014.9 859.5,1027.3 860,1027.8 860.5,1015 861,1015 861.5,1028 862,1027.8 862.5,1015 863,1014.7 863.5,1029.1 864,1029.6 864.5,1014.6 865,1014.7 865.5,1029.6 866,1029.1 866.5,1014.5 867,1014.6 867.5,1027.8 868,1027.9 868.5,1014.3 869,1014.5 869.5,1027.8 870,1027.8 870.5,1014.3 871,1014.3 871.5,1027.9 872,1027.9 872.5,1014.2 873,1014.4 873.5,1027.8 874,1027.4 874.5,1014.1 875,1014.4 875.5,1027.5 876,1027.4 876.5,1014.5 877,1014.6 877.5,1027.8 878,1027.8 878.5,1014.6 879,1014.7 879.5,1027.7 880,1027.5 880.5,1014.9 881,1014.6 881.5,1027.7 882,1027.5 882.5,1014.7 883,1014.7 883.5,1029.3 884,1030.1 884.5,1014.4 885,1013.6 885.5,1030.3 886,1030.1 886.5,1013 887,1012.7 887.5,1029.3 888,1027.8 888.5,1012.6 889,1012.7 889.5,1027.7 890,1027 890.5,1013 891,1013.6 891.5,1027.4 892,1028.8 892.5,1014 893,1014.7 893.5,1029.5 894,1030 894.5,1014.3 895,1014.5 895.5,1030.2 896,1030.3 896.5,1014.9 897,1014.7 897.5,1030.2 898,1030 898.5,1015 899,1015.1 899.5,1029.5 900,1028.8 900.5,1014.6 901,1014.5 901.5,1027.4 902,1027.6 902.5,1014.9 903,1014.8 903.5,1028.1 904,1028.3 904.5,1014.5 905,1014.7 905.5,1027.6 906,1027.9 906.5,1014.8 907,1014.8 907.5,1028.3 908,1028 908.5,1015 909,1014.8 909.5,1027.9 910,1027.8 910.5,1014.7 911,1015 911.5,1027.8 912,1027.6 912.5,1014.8 913,1014.7 913.5,1027.5 914,1027.3 914.5,1014.4 915,1014.8 915.5,1027.7 916,1027.2 916.5,1014.8 917,1014.9 917.5,1027.2 918,1027 918.5,1014.5 919,1014.3 919.5,1027.1 920,1027.4 920.5,1014.7 921,1014.9 921.5,1027.2 922,1027.2 922.5,1014.8 923,1014.3 923.5,1026.9 924,1026.7 924.5,1014.8 925,1014.7 925.5,1026.9 926,1027.1 926.5,1014.6 927,1014.5 927.5,1027.2 928,1027.1 928.5,1015.2 929,1015.2 929.5,1027.4 930,1027.4 930.5,1015.4 931,1015.2 931.5,1027.8 932,1027.8 932.5,1015.4 933,1015.2 933.5,1027.3 934,1027.9 934.5,1014.4 935,1013.6 935.5,1027.5 936,1027.6 936.5,1013.1 937,1013 937.5,1027.3 938,1027.7 938.5,1013.1 939,1013.6 939.5,1027.7 940,1027.7 940.5,1014.9 941,1014.9 941.5,1027.5 942,1027.4 942.5,1014.8 943,1014.7 943.5,1027.8 944,1028.1 944.5,1014.9 945,1014.6 945.5,1027.8 946,1028.1 946.5,1014.2 947,1014.8 947.5,1027.6 948,1028.1 948.5,1014.9 949,1014.9 949.5,1027.6 950,1027.4 950.5,1014.3 951,1014.7 951.5,1028.2 952,1027.7 952.5,1014.2 953,1014.3 953.5,1027.7 954,1027.4 954.5,1014.5 955,1014.6 955.5,1027.7 956,1027.6 956.5,1014.4 957,1013.7 957.5,1028.9 958,1029.6 958.5,1013.1 959,1012.8 959.5,1029.8 960,1029.6 960.5,1012.6 961,1012.6 961.5,1028.9 962,1029.1 962.5,1012.8 963,1013.1 963.5,1029.4 964,1029.6 964.5,1013.7 965,1014.5 965.5,1029.6 966,1029.4 966.5,1014.6 967,1014.6 967.5,1029.1 968,1028.5 968.5,1015 969,1014.9 969.5,1027.6 970,1027.6 970.5,1014.8 971,1014.9 971.5,1028.2 972,1028.1 972.5,1015 973,1014.8 973.5,1027.7 974,1027.9 974.5,1014.8 975,1014.9 975.5,1028.1 976,1027.9 976.5,1014.9 977,1015.2 977.5,1028.1 978,1027.6 978.5,1015.2 979,1014.9 979.5,1027.8 980,1027.7 980.5,1014.8 981,1014.8 981.5,1027.4 982,1027.5 982.5,1014.4 983,1013.9 983.5,1027.8 984,1027.6 984.5,1014 985,1014.8 985.5,1027.5 986,1027.4 986.5,1015 987,1014.7 987.5,1028 988,1027.5 988.5,1015.1 989,1014.6 989.5,1027.9 990,980 990.5,966.9 991,898.7 991.5,911.8 992,844 992.5,830.5 993,785.9 993.5,799.6 994,790.4 994.5,776.7 995,774 995.5,787 996,786.3 996.5,772.9 997,772.9 997.5,786.6 998,785.6 998.5,772.8 999,772.5 999.5,786.2 1000,787.4 1000.5,772.6 1001,772.4 1001.5,788.3 1002,788.7 1002.5,772.4 1003,772.7 1003.5,788.7 1004,788.3 1004.5,772.5 1005,772.4 1005.5,787.4 1006,785.8 1006.5,772.8 1007,772.6 1007.5,785.8 1008,786.3 1008.5,772.7 1009,772.8 1009.5,786 1010,786.1 1010.5,772.6 1011,772.3 1011.5,786 1012,785.8 1012.5,772.7 1013,773 1013.5,785.9 1014,785.8 1014.5,772.3 1015,772.9 1015.5,785.7 1016,785.5 1016.5,773.2 1017,773 1017.5,785.6 1018,785.9 1018.5,772.5 1019,773.2 1019.5,785.6 1020,785.7 1020.5,773.1 1021,772.7 1021.5,785.5 1022,785.1 1022.5,773.1 1023,772.9 1023.5,785.2 1024,785 1024.5,773 1025,772.5 1025.5,785.4 1026,785.1 1026.5,772.5 1027,772.9 1027.5,784.8 1028,785.3 1028.5,772.8 1029,772.3 1029.5,785 1030,785.1 1030.5,772.7 1031,772.9 1031.5,785.2 1032,786.6 1032.5,772.8 1033,772.5 1033.5,787.1 1034,787.5 1034.5,772.7 1035,772.2 1035.5,787.6 1036,787.5 1036.5,772.6 1037,772.6 1037.5,787.1 1038,786.6 1038.5,772.8 1039,772.8 1039.5,785.2 1040,785 1040.5,772.7 1041,772 1041.5,785.4 1042,785.2 1042.5,772.4 1043,772.8 1043.5,785.3 1044,785.3 1044.5,772.5 1045,772.1 1045.5,785.8 1046,785.1 1046.5,772.9 1047,772.6 1047.5,785.2 1048,785.1 1048.5,772.9 1049,772.7 1049.5,785.1 1050,785.1 1050.5,772.8 1051,772.7 1051.5,785.4 1052,785.3 1052.5,772 1053,772.5 1053.5,785.3 1054,785.3 1054.5,772.1 1055,772.4 1055.5,785.2 1056,785.6 1056.5,772.3 1057,772.2 1057.5,785.1 1058,785.7 1058.5,772.3 1059,772.1 1059.5,785.4 1060,785.5 1060.5,770.3 1061,769.3 1061.5,785.3 1062,785.3 1062.5,769 1063,769.3 1063.5,786.7 1064,787.3 1064.5,770.3 1065,772.3 1065.5,787.6 1066,787.8 1066.5,772.6 1067,772.7 1067.5,787.8 1068,788.6 1068.5,772.6 1069,773.2 1069.5,788.6 1070,787.7 1070.5,773.2 1071,773.1 1071.5,785.6 1072,785.5 1072.5,773.1 1073,772.8 1073.5,785.8 1074,785.6 1074.5,773 1075,772.6 1075.5,786.9 1076,787.7 1076.5,772.8 1077,771.9 1077.5,788.2 1078,788.5 1078.5,772.6 1079,772.4 1079.5,788.8 1080,789 1080.5,772.3 1081,772.4 1081.5,788.8 1082,788.3 1082.5,772.1 1083,772.5 1083.5,787.3 1084,785.9 1084.5,772.5 1085,772.8 1085.5,786.4 1086,786.5 1086.5,770.7 1087,769.8 1087.5,786.1 1088,786 1088.5,769.3 1089,769.3 1089.5,786.2 1090,785.9 1090.5,769.8 1091,770.7 1091.5,785.6 1092,785.6 1092.5,772.8 1093,773.2 1093.5,786.8 1094,787.3 1094.5,773.1 1095,773 1095.5,787.3 1096,786.8 1096.5,773 1097,772.7 1097.5,785.7 1098,785.4 1098.5,772.5 1099,772.7 1099.5,785.8 1100,785.5 1100.5,772.8 1101,772.7 1101.5,785.7 1102,785.5 1102.5,772.7 1103,772.4 1103.5,785.5 1104,785.6 1104.5,771.9 1105,772.4 1105.5,785.9 1106,785.6 1106.5,771.9 1107,772.2 1107.5,785.8 1108,786 1108.5,772.3 1109,772.3 1109.5,786.1 1110,785.9 1110.5,771.7 1111,772.2 1111.5,786.1 1112,786.2 1112.5,772 1113,772.1 1113.5,786.1 1114,786.3 1114.5,772.1 1115,772.1 1115.5,785.9 1116,785.7 1116.5,772.4 1117,772.4 1117.5,785.7 1118,785.4 1118.5,771.8 1119,772.3 1119.5,785.6 1120,785.3 1120.5,772.7 1121,772.6 1121.5,785.8 1122,785.7 1122.5,772.8 1123,772.5 1123.5,785.3 1124,785.4 1124.5,772.9 1125,772.7 1125.5,787.1 1126,788 1126.5,772.8 1127,772.9 1127.5,788.6 1128,788.9 1128.5,772.9 1129,772.7 1129.5,789 1130,788.9 1130.5,773.1 1131,772.8 1131.5,788.6 1132,788 1132.5,773.2 1133,772.7 1133.5,787.1 1134,785.4 1134.5,772.5 1135,772.9 1135.5,786.3 1136,786.9 1136.5,772.5 1137,772.5 1137.5,787.2 1138,787.4 1138.5,772.8 1139,772.6 1139.5,787.5 1140,787.4 1140.5,772.5 1141,772.6 1141.5,787.2 1142,786.9 1142.5,772.4 1143,772.4 1143.5,786.3 1144,785.2 1144.5,772.2 1145,772.6 1145.5,785.2 1146,786.7 1146.5,772.2 1147,771.7 1147.5,787.3 1148,787.5 1148.5,772.3 1149,772.8 1149.5,787.3 1150,786.7 1150.5,772.8 1151,772.8 1151.5,785.2 1152,785.3 1152.5,772.8 1153,772.9 1153.5,785.5 1154,785.8 1154.5,773.1 1155,772.8 1155.5,785.4 1156,786 1156.5,772.7 1157,772.8 1157.5,785.5 1158,785.9 1158.5,772.4 1159,772.7 1159.5,786 1160,785.6 1160.5,772.9 1161,773 1161.5,785.7 1162,785.3 1162.5,772.8 1163,772.3 1163.5,785.9 1164,785.4 1164.5,771.5 1165,770.9 1165.5,785.5 1166,785.4 1166.5,770.5 1167,770.3 1167.5,787.2 1168,788 1168.5,770.2 1169,770.3 1169.5,788.3 1170,788 1170.5,770.5 1171,770.9 1171.5,787.2 1172,785.8 1172.5,771.5 1173,772.2 1173.5,785.4 1174,785.5 1174.5,772.8 1175,770.9 1175.5,785.5 1176,785.7 1176.5,770.1 1177,769.9 1177.5,785.6 1178,785.6 1178.5,770.1 1179,770.9 1179.5,785.3 1180,785.6 1180.5,771 1181,770.9 1181.5,785.7 1182,785.3 1182.5,770.9 1183,771 1183.5,785.2 1184,785.7 1184.5,771.3 1185,771.8 1185.5,785.6 1186,785.2 1186.5,772.3 1187,771.1 1187.5,785.6 1188,785.4 1188.5,770.3 1189,769.8 1189.5,785.2 1190,785.5 1190.5,769.6 1191,769.6 1191.5,785.1 1192,785.3 1192.5,769.8 1193,770.3 1193.5,785.4 1194,787 1194.5,771.1 1195,772.2 1195.5,787.8 1196,788.2 1196.5,771.8 1197,772.2 1197.5,788.4 1198,788.2 1198.5,772.3 1199,772.4 1199.5,787.8 1200,787 1200.5,771.8 1201,772.3 1201.5,785.5 1202,785.7 1202.5,772.7 1203,772.4 1203.5,786 1204,785.5 1204.5,772.4 1205,772.5 1205.5,785.2 1206,785.2 1206.5,772.5 1207,772.3 1207.5,785.2 1208,785 1208.5,772.5 1209,770.1 1209.5,785.7 1210,785.3 1210.5,769.2 1211,769.2 1211.5,785.1 1212,785.5 1212.5,770.1 1213,772.6 1213.5,785.3 1214,785.3 1214.5,773.1 1215,772.8 1215.5,786.3 1216,785.8 1216.5,772.6 1217,773 1217.5,785.6 1218,785.6 1218.5,772.8 1219,771.3 1219.5,786 1220,786.2 1220.5,770.7 1221,770.3 1221.5,785.8 1222,786 1222.5,770.2 1223,770.3 1223.5,785.8 1224,785.6 1224.5,770.7 1225,771.3 1225.5,785.9 1226,785.8 1226.5,770.7 1227,770.2 1227.5,785.4 1228,786.2 1228.5,769.9 1229,769.8 1229.5,785.5 1230,785.5 1230.5,769.9 1231,770.2 1231.5,785.9 1232,785.4 1232.5,770.7 1233,771.4 1233.5,785.8 1234,785.7 1234.5,772.6 1235,772.9 1235.5,785.5 1236,785.3 1236.5,772.7 1237,772.6 1237.5,785.3 1238,785.4 1238.5,772.1 1239,771.2 1239.5,785.6 1240,785.3 1240.5,770.5 1241,770.3 1241.5,787.3 1242,788.2 1242.5,770.5 1243,770.2 1243.5,788.7 1244,788.7 1244.5,769.3 1245,769.3 1245.5,788.2 1246,787.3 1246.5,770.2 1247,772.6 1247.5,785.2 1248,784.7 1248.5,772.3 1249,772.3 1249.5,784.5 1250,784.7 1250.5,772.6 1251,772.3 1251.5,785.2 1252,784.6 1252.5,772.4 1253,772.8 1253.5,784.9 1254,785 1254.5,772.2 1255,772.5 1255.5,784.5 1256,784.5 1256.5,770.9 1257,770 1257.5,784.6 1258,784.8 1258.5,769.5 1259,769.2 1259.5,785.4 1260,786.7 1260.5,769.2 1261,769.3 1261.5,787.2 1262,787.2 1262.5,769.6 1263,770.5 1263.5,786.7 1264,785.3 1264.5,772.1 1265,772.2 1265.5,785.7 1266,785.7 1266.5,772.2 1267,772.1 1267.5,785.6 1268,785.6 1268.5,772.2 1269,772.1 1269.5,785.7 1270,785.7 1270.5,771.9 1271,772.2 1271.5,785.6 1272,786 1272.5,772.1 1273,771.9 1273.5,785.5 1274,785.7 1274.5,772.2 1275,771.5 1275.5,785.8 1276,785.1 1276.5,772 1277,772 1277.5,785.6 1278,785.1 1278.5,772.2 1279,771.7 1279.5,785.3 1280,785.8 1280.5,771.8 1281,771.6 1281.5,785.2 1282,785.2 1282.5,770.9 1283,770 1283.5,787.3 1284,788.2 1284.5,769.5 1285,769.4 1285.5,788.6 1286,788.6 1286.5,769.5 1287,770 1287.5,788.2 1288,787.3 1288.5,770.9 1289,772.8 1289.5,785.2 1290,785.8 1290.5,772.3 1291,771.6 1291.5,785.5 1292,785.5 1292.5,772.3 1293,772.1 1293.5,785.3 1294,785.1 1294.5,772.2 1295,772.5 1295.5,785 1296,785.2 1296.5,772.5 1297,772.8 1297.5,784.8 1298,785.2 1298.5,772.5 1299,772.6 1299.5,784.6 1300,784.8 1300.5,772.3 1301,772.9 1301.5,784.8 1302,785.4 1302.5,772.9 1303,772.8 1303.5,785 1304,785 1304.5,773.1 1305,773 1305.5,784.6 1306,784.9 1306.5,773.4 1307,773.3 1307.5,784.7 1308,785.5 1308.5,773.1 1309,772.8 1309.5,785 1310,785 1310.5,773.1 1311,772.9 1311.5,785.1 1312,785.2 1312.5,772.8 1313,772.7 1313.5,785.5 1314,785.6 1314.5,772.5 1315,772.4 1315.5,785.2 1316,785.4 1316.5,770.3 1317,769.3 1317.5,785.6 1318,785.8 1318.5,769 1319,769.3 1319.5,785.3 1320,785.3 1320.5,770.3 1321,772.7 1321.5,785.3 1322,785.4 1322.5,772.2 1323,772.8 1323.5,785.5 1324,786.4 1324.5,772.2 1325,771.3 1325.5,786.9 1326,787.2 1326.5,770.8 1327,776.3 1327.5,792.8 1328,847.3 1328.5,831.3 1329,887.2 1329.5,901.6 1330,955.7 1330.5,941.6 1331,959.2 1331.5,973.1 1332,978.6 1332.5,963.5 1333,965.7 1333.5,980.6 1334,981.3 1334.5,965.6 1335,966.5 1335.5,981.6 1336,981.5 1336.5,966.3 1337,966.4 1337.5,981.3 1338,980.9 1338.5,966.5 1339,966.5 1339.5,980.3 1340,979.2 1340.5,966.1 1341,965.9 1341.5,979.5 1342,979.5 1342.5,966.2 1343,966 1343.5,979.3 1344,979.3 1344.5,966.4 1345,966 1345.5,979.5 1346,979.3 1346.5,966.3 1347,966.4 1347.5,979.2 1348,979 1348.5,966.2 1349,966.7 1349.5,979.4 1350,978.8 1350.5,966.7 1351,966.7 1351.5,978.9 1352,979.2 1352.5,966.7 1353,966.3 1353.5,979.2 1354,978.9 1354.5,966.7 1355,966.8 1355.5,978.9 1356,978.9 1356.5,966.6 1357,966.5 1357.5,980.8 1358,981.8 1358.5,966.7 1359,966.5 1359.5,982.4 1360,982.7 1360.5,966.8 1361,966.2 1361.5,982.8 1362,982.7 1362.5,966.1 1363,966.6 1363.5,982.4 1364,981.8 1364.5,966.5 1365,966.6 1365.5,980.8 1366,978.9 1366.5,966.3 1367,966.5 1367.5,978.8 1368,979.3 1368.5,964.9 1369,964.2 1369.5,979 1370,978.8 1370.5,963.7 1371,963.4 1371.5,978.9 1372,979.2 1372.5,963.3 1373,963.4 1373.5,978.8 1374,979 1374.5,963.7 1375,964.2 1375.5,979.1 1376,979.1 1376.5,964.1 1377,964.1 1377.5,979 1378,978.9 1378.5,964.7 1379,966.5 1379.5,979.1 1380,979.1 1380.5,967 1381,966.5 1381.5,979.1 1382,979.1 1382.5,965.1 1383,964.5 1383.5,979.6 1384,979.6 1384.5,964.2 1385,964.2 1385.5,979.2 1386,979.6 1386.5,964.5 1387,965.1 1387.5,979.2 1388,979.4 1388.5,965.7 1389,966 1389.5,979.4 1390,979.1 1390.5,965.7 1391,965.8 1391.5,979.3 1392,979.1 1392.5,965.7 1393,965 1393.5,979.3 1394,979.3 1394.5,964.3 1395,963.9 1395.5,978.8 1396,978.8 1396.5,963.6 1397,963.5 1397.5,978.9 1398,978.6 1398.5,963.6 1399,963.9 1399.5,978.8 1400,978.6 1400.5,964.3 1401,965 1401.5,978.8 1402,979.1 1402.5,966.2 1403,966.2 1403.5,980.9 1404,981.7 1404.5,966.3 1405,965.9 1405.5,982.1 1406,982.1 1406.5,965.4 1407,966.2 1407.5,981.7 1408,980.9 1408.5,966 1409,966.2 1409.5,979.3 1410,979.4 1410.5,966.3 1411,966.2 1411.5,979.7 1412,979.5 1412.5,966.2 1413,966.1 1413.5,979.4 1414,979.5 1414.5,966.4 1415,966.2 1415.5,979.2 1416,979.1 1416.5,965.8 1417,965.5 1417.5,979 1418,979.1 1418.5,966 1419,966.4 1419.5,978.9 1420,980.6 1420.5,965.7 1421,966.3 1421.5,981.4 1422,981.8 1422.5,966.5 1423,966.4 1423.5,981.9 1424,981.8 1424.5,966.1 1425,966.2 1425.5,981.4 1426,980.6 1426.5,966.4 1427,966.4 1427.5,979.1 1428,978.9 1428.5,966.6 1429,966.6 1429.5,979.2 1430,979.2 1430.5,966.4 1431,966.9 1431.5,979.1 1432,979.1 1432.5,966.6 1433,966.8 1433.5,979.1 1434,979.3 1434.5,966.7 1435,966.9 1435.5,979.1 1436,978.5 1436.5,966.8 1437,966.7 1437.5,978.7 1438,978.5 1438.5,966.9 1439,966.8 1439.5,978.6 1440,978.7 1440.5,966.6 1441,966.4 1441.5,978.5 1442,978.8 1442.5,965 1443,964.4 1443.5,978.4 1444,979 1444.5,964.2 1445,964.4 1445.5,979 1446,980.2 1446.5,965 1447,966.5 1447.5,980.8 1448,981.2 1448.5,966.8 1449,966.7 1449.5,981.3 1450,981.2 1450.5,966.5 1451,966.9 1451.5,980.8 1452,980.2 1452.5,966.3 1453,966.8 1453.5,979 1454,979.1 1454.5,966.2 1455,966.9 1455.5,979 1456,978.9 1456.5,966.4 1457,966.6 1457.5,979.6 1458,978.8 1458.5,966.4 1459,966.6 1459.5,978.6 1460,978.8 1460.5,966.1 1461,966.6 1461.5,979.2 1462,979.2 1462.5,966.5 1463,966.1 1463.5,979.4 1464,979.1 1464.5,965.6 1465,966.1 1465.5,979.3 1466,979.3 1466.5,966.5 1467,966.3 1467.5,979.5 1468,979.5 1468.5,966.3 1469,966.4 1469.5,979.3 1470,979.4 1470.5,966.2 1471,966.3 1471.5,979.1 1472,979.4 1472.5,966 1473,966.2 1473.5,979.2 1474,979.6 1474.5,966.3 1475,965.5 1475.5,979.3 1476,979.7 1476.5,966 1477,966.1 1477.5,979.7 1478,979.1 1478.5,966.1 1479,965.9 1479.5,978.9 1480,978.9 1480.5,965.9 1481,966.1 1481.5,978.7 1482,979.2 1482.5,966.2 1483,965.8 1483.5,978.7 1484,978.8 1484.5,966.2 1485,966.3 1485.5,978.9 1486,979 1486.5,966.5 1487,966.4 1487.5,979.2 1488,979 1488.5,966.6 1489,966.7 1489.5,978.9 1490,978.9 1490.5,966.6 1491,966.5 1491.5,979.1 1492,979.3 1492.5,964.2 1493,963.4 1493.5,979.3 1494,979.4 1494.5,963.4 1495,964.2 1495.5,979.8 1496,979.4 1496.5,965.6 1497,966.4 1497.5,980.2 1498,979.8 1498.5,966.3 1499,966.3 1499.5,979.6 1500,979.6 1500.5,966 1501,966.2 1501.5,979.8 1502,979.7 1502.5,966.2 1503,966.3 1503.5,979.6 1504,979.4 1504.5,965.6 1505,966.5 1505.5,979.5 1506,979.4 1506.5,966.4 1507,966.4 1507.5,979.3 1508,979.5 1508.5,966.7 1509,966.7 1509.5,979.4 1510,979.2 1510.5,966.5 1511,966.8 1511.5,979 1512,979 1512.5,966.4 1513,966.5 1513.5,979.5 1514,979.4 1514.5,966.4 1515,966.2 1515.5,979.2 1516,979.4 1516.5,965.1 1517,964.5 1517.5,979.2 1518,979.1 1518.5,964.2 1519,964 1519.5,979 1520,978.9 1520.5,964.2 1521,964.5 1521.5,979 1522,979.1 1522.5,965.1 1523,965.7 1523.5,981 1524,981.7 1524.5,964.2 1525,963.2 1525.5,981.7 1526,981.8 1526.5,962.7 1527,962.7 1527.5,981.9 1528,981.8 1528.5,963.2 1529,964.2 1529.5,981.3 1530,980.6 1530.5,966.5 1531,966.6 1531.5,978.9 1532,978.7 1532.5,966.8 1533,966.6 1533.5,979.4 1534,979.3 1534.5,966.3 1535,966.8 1535.5,979.1 1536,979.1 1536.5,966.2 1537,966.6 1537.5,979.1 1538,979 1538.5,966.2 1539,966.3 1539.5,979.2 1540,979.1 1540.5,965.4 1541,964.8 1541.5,979.4 1542,979.7 1542.5,964.4 1543,964.2 1543.5,979.8 1544,979.4 1544.5,964.2 1545,964.2 1545.5,979.8 1546,979.5 1546.5,964.4 1547,964.8 1547.5,979.8 1548,979.6 1548.5,965.4 1549,965.9 1549.5,979.8 1550,979.2 1550.5,965.8 1551,965.7 1551.5,979.6 1552,979.4 1552.5,965.7 1553,965.5 1553.5,979.3 1554,979.8 1554.5,965.9 1555,965.6 1555.5,979.8 1556,979.1 1556.5,966 1557,965.8 1557.5,979.2 1558,979.6 1558.5,965.8 1559,965.6 1559.5,979.2 1560,980.6 1560.5,966 1561,965.9 1561.5,981.3 1562,981.6 1562.5,965.8 1563,966.2 1563.5,981.6 1564,981.3 1564.5,966.3 1565,966.2 1565.5,980.6 1566,979.2 1566.5,966.3 1567,966.7 1567.5,979.3 1568,979.5 1568.5,965.8 1569,966.4 1569.5,979.3 1570,979.3 1570.5,966.6 1571,966.6 1571.5,979 1572,979.5 1572.5,966.8 1573,966.7 1573.5,979 1574,980.5 1574.5,966.9 1575,966.6 1575.5,981.2 1576,981.7 1576.5,966.3 1577,966.5 1577.5,981.9 1578,982 1578.5,966.2 1579,966.4 1579.5,981.9 1580,981.7 1580.5,966.3 1581,966.2 1581.5,981.2 1582,980.5 1582.5,966.1 1583,966.1 1583.5,979.1 1584,979.3 1584.5,966.1 1585,966.1 1585.5,979.4 1586,981.7 1586.5,965.9 1587,965.7 1587.5,982.6 1588,982.6 1588.5,965.8 1589,963.8 1589.5,981.7 1590,979 1590.5,962.9 1591,962.9 1591.5,978.9 1592,978.9 1592.5,963.8 1593,966.3 1593.5,979.5 1594,978.7 1594.5,966.3 1595,966.1 1595.5,978.5 1596,979 1596.5,964.6 1597,963.7 1597.5,978.8 1598,978.9 1598.5,963.3 1599,963.1 1599.5,978.9 1600,978.9 1600.5,963.3 1601,963.7 1601.5,979.2 1602,979.1 1602.5,964.6 1603,966.5 1603.5,979.4 1604,978.8 1604.5,966.5 1605,965.3 1605.5,978.9 1606,979.1 1606.5,964.8 1607,964.5 1607.5,978.9 1608,979.2 1608.5,964.3 1609,964.3 1609.5,979.1 1610,979.3 1610.5,964.5 1611,964.8 1611.5,979 1612,979.1 1612.5,965.3 1613,966.5 1613.5,978.7 1614,979 1614.5,966.8 1615,966.5 1615.5,978.9 1616,979.1 1616.5,966.7 1617,967.1 1617.5,979.6 1618,978.7 1618.5,966.8 1619,966.9 1619.5,978.6 1620,978.5 1620.5,966.7 1621,966.6 1621.5,979.6 1622,978.9 1622.5,966.8 1623,966.3 1623.5,978.6 1624,978.8 1624.5,966.3 1625,966.6 1625.5,978.8 1626,979.1 1626.5,966.3 1627,966.7 1627.5,979 1628,978.7 1628.5,966.3 1629,966.4 1629.5,979.1 1630,979.2 1630.5,966.1 1631,966 1631.5,978.7 1632,979.1 1632.5,966.3 1633,966.4 1633.5,979.3 1634,978.9 1634.5,966.5 1635,966.7 1635.5,979.1 1636,978.9 1636.5,965.7 1637,966.4 1637.5,979.1 1638,979.2 1638.5,966.6 1639,966.1 1639.5,979 1640,979 1640.5,966.8 1641,966.7 1641.5,978.8 1642,978.9 1642.5,966.2 1643,966.2 1643.5,978.7 1644,979.1 1644.5,966.1 1645,966.6 1645.5,979.1 1646,980.1 1646.5,966.2 1647,965.9 1647.5,979 1648,979.2 1648.5,966 1649,965.4 1649.5,979.4 1650,979.3 1650.5,966 1651,965.8 1651.5,979 1652,979.1 1652.5,966 1653,965.9 1653.5,979.2 1654,979.6 1654.5,965.6 1655,965.8 1655.5,979.6 1656,979.7 1656.5,966.4 1657,966.4 1657.5,979.9 1658,979.8 1658.5,966.2 1659,966.5 1659.5,979.6 1660,980.3 1660.5,966.5 1661,966.3 1661.5,979.6 1662,979.4 1662.5,966.2 1663,966.6 1663.5,979.2 1664,979.3 1664.5,966.4 1665,993.4 1665.5,1006.9 1666,1061.3 1666.5,1048 1667,1102.7 1667.5,1115.6 1668,1159.1 1668.5,1145.8 1669,1155.3 1669.5,1169 1670,1171.5 1670.5,1158.2 1671,1159.5 1671.5,1172.2 1672,1173.1 1672.5,1160 1673,1159.4 1673.5,1172.7 1674,1173.5 1674.5,1159.7 1675,1160.1 1675.5,1173 1676,1174.1 1676.5,1160 1677,1160.2 1677.5,1174.7 1678,1174.9 1678.5,1160.1 1679,1159.5 1679.5,1174.7 1680,1174.1 1680.5,1159.9 1681,1159.6 1681.5,1174.6 1682,1174.6 1682.5,1159.6 1683,1159.8 1683.5,1174.1 1684,1172.7 1684.5,1159.7 1685,1159.5 1685.5,1172.8 1686,1172.8 1686.5,1159.4 1687,1159.6 1687.5,1172.8 1688,1174.1 1688.5,1159.5 1689,1159.3 1689.5,1174.8 1690,1175.1 1690.5,1159.3 1691,1159.5 1691.5,1175.1 1692,1174.8 1692.5,1159.1 1693,1159.8 1693.5,1174.1 1694,1172.6 1694.5,1159.8 1695,1159.9 1695.5,1172.3 1696,1172.2 1696.5,1159.4 1697,1160 1697.5,1172.2 1698,1172.3 1698.5,1159.9 1699,1159.6 1699.5,1172.1 1700,1172.1 1700.5,1159.3 1701,1159.1 1701.5,1172.2 1702,1172.7 1702.5,1159.5 1703,1159.5 1703.5,1172.4 1704,1172.3 1704.5,1159.3 1705,1159.4 1705.5,1172.1 1706,1172.3 1706.5,1160 1707,1159.6 1707.5,1172.2 1708,1172.7 1708.5,1159.7 1709,1159.4 1709.5,1172.6 1710,1173.4 1710.5,1158.9 1711,1158.7 1711.5,1172.8 1712,1172.9 1712.5,1159.5 1713,1159.1 1713.5,1173.1 1714,1173.1 1714.5,1159.8 1715,1158.6 1715.5,1173.2 1716,1173.4 1716.5,1157.8 1717,1157.4 1717.5,1173 1718,1174.5 1718.5,1157.1 1719,1157 1719.5,1175.4 1720,1175.8 1720.5,1157.1 1721,1157.4 1721.5,1176 1722,1175.8 1722.5,1157.8 1723,1158.6 1723.5,1175.4 1724,1174.5 1724.5,1159.6 1725,1160 1725.5,1173.1 1726,1174.3 1726.5,1160.1 1727,1159.7 1727.5,1175 1728,1175.2 1728.5,1159.6 1729,1158.7 1729.5,1175 1730,1174.3 1730.5,1158 1731,1157.6 1731.5,1174.2 1732,1174.5 1732.5,1157.5 1733,1157.6 1733.5,1174.6 1734,1174.6 1734.5,1158 1735,1157.8 1735.5,1174.5 1736,1174.3 1736.5,1157.8 1737,1158.4 1737.5,1175 1738,1175.2 1738.5,1159.7 1739,1157.6 1739.5,1175 1740,1174.3 1740.5,1156.6 1741,1156.3 1741.5,1172.6 1742,1172.3 1742.5,1156.6 1743,1157.6 1743.5,1172.5 1744,1172.7 1744.5,1159.7 1745,1159.4 1745.5,1172.7 1746,1172.9 1746.5,1160.1 1747,1160 1747.5,1172.7 1748,1172.7 1748.5,1159.9 1749,1159.8 1749.5,1173.1 1750,1172.6 1750.5,1159.9 1751,1160.1 1751.5,1172.8 1752,1172.7 1752.5,1160 1753,1159.8 1753.5,1172.7 1754,1172.7 1754.5,1159.8 1755,1160 1755.5,1173.1 1756,1173.1 1756.5,1159.6 1757,1160 1757.5,1173.1 1758,1173.5 1758.5,1159.7 1759,1160 1759.5,1173.1 1760,1173.5 1760.5,1159.6 1761,1159.9 1761.5,1173.1 1762,1173.4 1762.5,1159.8 1763,1159.7 1763.5,1173 1764,1173.5 1764.5,1159.8 1765,1159.7 1765.5,1173.3 1766,1173.3 1766.5,1159.8 1767,1159.4 1767.5,1174.8 1768,1175.5 1768.5,1159.7 1769,1159.9 1769.5,1175.5 1770,1175.2 1770.5,1159.6 1771,1159.5 1771.5,1175.4 1772,1175.5 1772.5,1159.5 1773,1159.7 1773.5,1175.4 1774,1175.2 1774.5,1159.1 1775,1159.1 1775.5,1174.7 1776,1174.1 1776.5,1159.3 1777,1159.4 1777.5,1172.6 1778,1172.5 1778.5,1159.8 1779,1159.9 1779.5,1172.3 1780,1172.4 1780.5,1159.9 1781,1159.6 1781.5,1172.4 1782,1172.6 1782.5,1159.8 1783,1159.7 1783.5,1173.5 1784,1173.9 1784.5,1159.7 1785,1159.3 1785.5,1174.2 1786,1174.4 1786.5,1158.4 1787,1157.6 1787.5,1174.4 1788,1174.4 1788.5,1157 1789,1156.7 1789.5,1174.2 1790,1173.9 1790.5,1156.6 1791,1156.7 1791.5,1173.5 1792,1172.6 1792.5,1157 1793,1157.6 1793.5,1172.5 1794,1172.8 1794.5,1158.4 1795,1159.8 1795.5,1172.5 1796,1172.7 1796.5,1159.6 1797,1159 1797.5,1172.7 1798,1172.6 1798.5,1158.5 1799,1158.4 1799.5,1172.8 1800,1172.5 1800.5,1158.5 1801,1158.5 1801.5,1172.7 1802,1172.5 1802.5,1157.9 1803,1157.9 1803.5,1172.6 1804,1172.5 1804.5,1158.5 1805,1159.8 1805.5,1172.5 1806,1173.1 1806.5,1159.5 1807,1159 1807.5,1172.5 1808,1172.6 1808.5,1159.7 1809,1159 1809.5,1172.5 1810,1172.8 1810.5,1158.5 1811,1158.2 1811.5,1172.9 1812,1172.8 1812.5,1158.1 1813,1158.2 1813.5,1173 1814,1173.3 1814.5,1158.5 1815,1159 1815.5,1173.1 1816,1172.8 1816.5,1159.6 1817,1159.8 1817.5,1173.1 1818,1172.8 1818.5,1159.7 1819,1158.5 1819.5,1173.2 1820,1173 1820.5,1157.8 1821,1157.5 1821.5,1173.1 1822,1173.9 1822.5,1157.8 1823,1158.2 1823.5,1174.5 1824,1174.6 1824.5,1158.1 1825,1158.2 1825.5,1174.5 1826,1173.9 1826.5,1158.4 1827,1158.6 1827.5,1173.4 1828,1173.1 1828.5,1159 1829,1159 1829.5,1172.8 1830,1172.8 1830.5,1158.7 1831,1159.2 1831.5,1172.9 1832,1172.9 1832.5,1159.2 1833,1159.1 1833.5,1173 1834,1172.9 1834.5,1159.2 1835,1159.3 1835.5,1172.8 1836,1172.8 1836.5,1159.3 1837,1159.4 1837.5,1173.5 1838,1173.2 1838.5,1159.6 1839,1159.7 1839.5,1172.8 1840,1172.9 1840.5,1159.8 1841,1159.9 1841.5,1173.4 1842,1172.7 1842.5,1159.6 1843,1159.4 1843.5,1173.2 1844,1173.3 1844.5,1159.8 1845,1160.1 1845.5,1172.9 1846,1174.6 1846.5,1160.1 1847,1160.4 1847.5,1175.5 1848,1176.1 1848.5,1160.4 1849,1160.5 1849.5,1176.4 1850,1176.4 1850.5,1160 1851,1160.2 1851.5,1176.1 1852,1175.5 1852.5,1158 1853,1157.2 1853.5,1174.6 1854,1172.6 1854.5,1157.2 1855,1158 1855.5,1172.6 1856,1172.9 1856.5,1160.2 1857,1160 1857.5,1173.3 1858,1172.5 1858.5,1160.2 1859,1160.5 1859.5,1172.7 1860,1173 1860.5,1160 1861,1160.5 1861.5,1172.8 1862,1173 1862.5,1160.2 1863,1160.3 1863.5,1172.9 1864,1172.8 1864.5,1160.3 1865,1160.1 1865.5,1173.3 1866,1173.1 1866.5,1160.3 1867,1160.2 1867.5,1172.9 1868,1173 1868.5,1160.1 1869,1160.1 1869.5,1173.4 1870,1173 1870.5,1160.3 1871,1159.2 1871.5,1173.2 1872,1173 1872.5,1160 1873,1159.7 1873.5,1173.1 1874,1172.7 1874.5,1159.9 1875,1159.5 1875.5,1172.8 1876,1173.9 1876.5,1159.8 1877,1159.9 1877.5,1174.5 1878,1174.8 1878.5,1159.6 1879,1160 1879.5,1175 1880,1175 1880.5,1159.6 1881,1160.1 1881.5,1175 1882,1175.2 1882.5,1159.8 1883,1160.2 1883.5,1175.2 1884,1175 1884.5,1159.8 1885,1160 1885.5,1174.8 1886,1175.8 1886.5,1159.1 1887,1158.6 1887.5,1176.2 1888,1176.2 1888.5,1158.3 1889,1158.2 1889.5,1175.8 1890,1174.8 1890.5,1158.3 1891,1158.6 1891.5,1172.8 1892,1172.9 1892.5,1159.1 1893,1159.9 1893.5,1172.6 1894,1172.8 1894.5,1159.8 1895,1159.8 1895.5,1173.3 1896,1172.8 1896.5,1158.3 1897,1157.5 1897.5,1173.2 1898,1172.7 1898.5,1157.1 1899,1157.1 1899.5,1172.8 1900,1172.9 1900.5,1157.5 1901,1158.3 1901.5,1174 1902,1174.6 1902.5,1160.1 1903,1160.2 1903.5,1174.7 1904,1174.6 1904.5,1159.9 1905,1157.7 1905.5,1174 1906,1173.6 1906.5,1156.7 1907,1156.4 1907.5,1174 1908,1174.3 1908.5,1156.7 1909,1157.7 1909.5,1174.5 1910,1174.6 1910.5,1160.1 1911,1160.1 1911.5,1174.5 1912,1174.3 1912.5,1160 1913,1160.3 1913.5,1174 1914,1173.6 1914.5,1160.3 1915,1159.6 1915.5,1172.6 1916,1172.8 1916.5,1160.3 1917,1160.2 1917.5,1172.8 1918,1172.9 1918.5,1160.2 1919,1159.9 1919.5,1172.6 1920,1172.7 1920.5,1160.4 1921,1160.4 1921.5,1173.3 1922,1173.2 1922.5,1160.2 1923,1157.6 1923.5,1172.7 1924,1172.5 1924.5,1156.7 1925,1156.7 1925.5,1173 1926,1172.8 1926.5,1157.6 1927,1160.2 1927.5,1172.8 1928,1172.7 1928.5,1160.1 1929,1160.3 1929.5,1173.1 1930,1172.8 1930.5,1160 1931,1160.2 1931.5,1173.1 1932,1172.7 1932.5,1160.3 1933,1160.3 1933.5,1173.4 1934,1173.3 1934.5,1160 1935,1159.6 1935.5,1172.9 1936,1172.8 1936.5,1160.1 1937,1159.9 1937.5,1172.6 1938,1173 1938.5,1159.9 1939,1159.9 1939.5,1173 1940,1172.9 1940.5,1159.9 1941,1160 1941.5,1172.8 1942,1172.9 1942.5,1160 1943,1160.1 1943.5,1172.6 1944,1172.7 1944.5,1160 1945,1157.9 1945.5,1173 1946,1174.4 1946.5,1157 1947,1156.8 1947.5,1175.3 1948,1175.8 1948.5,1157 1949,1157.9 1949.5,1176.2 1950,1176.3 1950.5,1160.2 1951,1160.1 1951.5,1176.2 1952,1175.8 1952.5,1160.2 1953,1158.4 1953.5,1175.3 1954,1174.4 1954.5,1157.8 1955,1157.8 1955.5,1173.2 1956,1172.9 1956.5,1158.4 1957,1160.2 1957.5,1173.1 1958,1172.9 1958.5,1160.4 1959,1160 1959.5,1173.3 1960,1172.6 1960.5,1159.9 1961,1160 1961.5,1172.9 1962,1172.6 1962.5,1159.4 1963,1159.9 1963.5,1172.8 1964,1172.6 1964.5,1159.9 1965,1159.9 1965.5,1172.5 1966,1172.2 1966.5,1160 1967,1159.5 1967.5,1172.3 1968,1172.3 1968.5,1159.9 1969,1159.3 1969.5,1172.2 1970,1172.6 1970.5,1159.8 1971,1159.5 1971.5,1172.7 1972,1174 1972.5,1160 1973,1159.8 1973.5,1174.7 1974,1175.1 1974.5,1159.7 1975,1160 1975.5,1175.3 1976,1175.3 1976.5,1159.9 1977,1159.9 1977.5,1175.1 1978,1174.7 1978.5,1159.1 1979,1159.5 1979.5,1174 1980,1172.8 1980.5,1159.8 1981,1160 1981.5,1172.8 1982,1172.7 1982.5,1158.7 1983,1158 1983.5,1172.8 1984,1173.4 1984.5,1157.6 1985,1157.4 1985.5,1172.9 1986,1173.5 1986.5,1157.4 1987,1157.6 1987.5,1173.4 1988,1173 1988.5,1158 1989,1158.7 1989.5,1173.3 1990,1172.9 1990.5,1158.3 1991,1158.1 1991.5,1173.1 1992,1172.9 1992.5,1158.3 1993,1158.8 1993.5,1173 1994,1172.9 1994.5,1159.5 1995,1159.3 1995.5,1172.6 1996,1172.7 1996.5,1159.7 1997,1159.7 1997.5,1172.7 1998,1173.4 1998.5,1159.7 1999,1159.3 1999.5,1172.5 2000,1172.9 2000.5,1159.3 2001,1159.6 2001.5,1172.3 2001,1166.9 2001,1408"/>
<polyline stroke="#000" stroke-width="4.8" stroke-linejoin="miter" points="315,1215.3 652.6,1215.3 652.6,1021.6 990.2,1021.6 990.2,779.5 1327.8,779.5 1327.8,973.2 1665.4,973.2 1665.4,1166.9 2004,1166.9"/>
</g>
<rect x="396" y="113" width="575" height="273" fill="#000"/><rect x="399" y="116" width="570" height="267" fill="#fff"/>
<line x1="408" y1="163" x2="565" y2="163" stroke="#ff0000" stroke-width="8" stroke-linecap="round"/>
<line x1="408" y1="249" x2="565" y2="249" stroke="#6072ff" stroke-width="8" stroke-linecap="round"/>
<line x1="407.8" y1="336" x2="565.8" y2="336" stroke="#000" stroke-width="4" stroke-linecap="round"/>
<g clip-path="url(#ic)" fill="none" stroke-linejoin="round">
<polyline stroke="#ff0000" stroke-width="3.3" points="1318.2,634.5 1319.4,609.2 1320.6,579.3 1321.8,550.5 1323,531.3 1324.2,513.6 1325.4,496.3 1326.6,482.2 1327.8,469.3 1329,451.9 1330.2,436.7 1331.4,420.6 1332.6,404.1 1333.8,390.5 1335,377 1336.2,364.9 1337.4,355.7 1338.6,343.5 1339.8,333.2 1341,313.8 1342.2,295.4 1343.4,292.4 1344.6,287.8 1345.8,283.1 1347,275.5 1348.2,265.8 1349.4,253.5 1350.6,242.1 1351.8,233.4 1353,222.4 1354.2,210 1355.4,209 1356.6,208.9 1357.8,207.2 1359,195.7 1360.2,183.8 1361.4,178.6 1362.6,172.1 1363.8,164.9 1365,164.3 1366.2,160.7 1367.4,155.7 1368.6,152.2 1369.8,148.6 1371,151.1 1372.2,153.8 1373.4,145.5 1374.6,141.4 1375.8,135.6 1377,142.7 1378.2,140.8 1379.4,140.8 1380.6,135.5 1381.8,143.6 1383,150 1384.2,135.5 1385.4,133.4 1386.6,138.8 1387.8,138.4 1389,130.8 1390.2,135.5 1391.4,135.2 1392.6,128.8 1393.8,136 1395,143.5 1396.2,158 1397.4,152 1398.6,144.1 1399.8,147.2 1401,162.9 1402.2,166.1 1403.4,164.2 1404.6,157.2 1405.8,161.3 1407,166.5 1408.2,163.6 1409.4,171.5 1410.6,174.3 1411.8,180.8 1413,185.1 1414.2,191 1415.4,187.3 1416.6,188.9 1417.8,186.5 1419,194.9 1420.2,199.5 1421.4,198.3 1422.6,208.4 1423.8,205.1 1425,212.4 1426.2,212.2 1427.4,212.3 1428.6,216.1 1429.8,214.1 1431,213.3 1432.2,207.8 1433.4,211.7 1434.6,222.1 1435.8,229.2 1437,233.1 1438.2,232.8 1439.4,242 1440.6,250.1 1441.8,251.7 1443,254.7 1444.2,261.3 1445.4,269 1446.6,276.3 1447.8,282.2 1449,276.5 1450.2,276.2 1451.4,274.4 1452.6,274.8 1453.8,277 1455,287.1 1456.2,289.1 1457.4,293.5 1458.6,297 1459.8,299.9 1461,301.7 1462.2,297.9 1463.4,298.9 1464.6,295 1465.8,308 1467,302.2 1468.2,312.3 1469.4,321.5 1470.6,316.9 1471.8,315 1473,319.1 1474.2,320.3 1475.4,327.5 1476.6,331.2 1477.8,333.5 1479,331.3 1480.2,330.1 1481.4,335.7 1482.6,338.2 1483.8,343.6 1485,342 1486.2,342.6 1487.4,341.9 1488.6,339 1489.8,342.7 1491,337.7 1492.2,339.7 1493.4,346.3 1494.6,347.2 1495.8,349.9 1497,358 1498.2,361.6 1499.4,355.9 1500.6,349.8 1501.8,349.7 1503,349.4 1504.2,356.9 1505.4,354.2 1506.6,348.3 1507.8,351 1509,352.8 1510.2,360.4 1511.4,364.1 1512.6,369.6 1513.8,355.3 1515,361.8 1516.2,366.7 1517.4,362.6 1518.6,363.1 1519.8,359.4 1521,358.2 1522.2,364.5 1523.4,364.3 1524.6,367.5 1525.8,364 1527,364.2 1528.2,360.1 1529.4,362.2 1530.6,366.7 1531.8,361.1 1533,356.7 1534.2,358.4 1535.4,360.3 1536.6,363.2 1537.8,359.1 1539,360.2 1540.2,361 1541.4,360.5 1542.6,362.8 1543.8,363.5 1545,361 1546.2,355.6 1547.4,356.6 1548.6,352.9 1549.8,358.2 1551,355.4 1552.2,353.9 1553.4,356.5 1554.6,353.7 1555.8,354.2 1557,353.5 1558.2,350.3 1559.4,351 1560.6,352.7 1561.8,355.1 1563,350.3 1564.2,355 1565.4,353.6 1566.6,352.1 1567.8,355.1 1569,356.4 1570.2,352.9 1571.4,350.8 1572.6,357 1573.8,353 1575,357.7 1576.2,359.4 1577.4,357.5 1578.6,352.6 1579.8,353.7 1581,348.3 1582.2,349.8 1583.4,351.5 1584.6,344.7 1585.8,344.3 1587,340.8 1588.2,345.5 1589.4,346.6 1590.6,345.7 1591.8,343.4 1593,341.5 1594.2,340.6 1595.4,336.5 1596.6,339.7 1597.8,337.5 1599,345.4 1600.2,336.7 1601.4,336.2 1602.6,336.9 1603.8,346.9 1605,343.3 1606.2,329.7 1607.4,333.8 1608.6,351.1 1609.8,348.7 1611,341.2 1612.2,346.3 1613.4,334.1 1614.6,337.5 1615.8,339.4 1617,341.8 1618.2,335.6 1619.4,332.1 1620.6,338.7 1621.8,336.1 1623,338.5 1624.2,334.9 1625.4,337.2 1626.6,339.2 1627.8,329.2 1629,329.4 1630.2,339.8 1631.4,335.2 1632.6,330.4 1633.8,332.5 1635,346.7 1636.2,337.3 1637.4,341.4 1638.6,342.6 1639.8,336.8 1641,334.5 1642.2,334.6 1643.4,327.2 1644.6,336.1 1645.8,336.2 1647,337.3 1648.2,342.4 1649.4,332.2 1650.6,339.2 1651.8,341.7 1653,338.5 1654.2,341.2 1655.4,335.2 1656.6,331.3 1657.8,333.5 1659,341.2 1660.2,337.6 1661.4,320.2 1662.6,328.8 1663.8,337.4 1665,344 1666.2,340.3 1667.4,331.8 1668.6,337.3 1669.8,339.8 1671,340.8 1672.2,340.2 1673.4,340.5 1674.6,344.8 1675.8,341.2 1677,347.4 1678.2,330.9 1679.4,335.3 1680.6,329.3 1681.8,331.9 1683,338.1 1684.2,342.6 1685.4,339 1686.6,335.6 1687.8,333.6 1689,334.4 1690.2,342 1691.4,337.1 1692.6,336.1 1693.8,337.3 1695,334.1 1696.2,337.7 1697.4,339.6 1698.6,328.6 1699.8,328.3 1701,329.8 1702.2,333.7 1703.4,337.6 1704.6,330.6 1705.8,335.6 1707,327.1 1708.2,333.8 1709.4,333.3 1710.6,345.4 1711.8,333.8 1713,332.4 1714.2,344.3 1715.4,345.4 1716.6,348.2 1717.8,339.8 1719,338.2 1720.2,332.8 1721.4,337.8 1722.6,328.3 1723.8,335.7 1725,333.1 1726.2,332.9 1727.4,335.8 1728.6,342.2 1729.8,341.3 1731,345.5 1732.2,333.9 1733.4,330.6 1734.6,331 1735.8,338 1737,336.2 1738.2,338.9 1739.4,338.3 1740.6,332.8 1741.8,329.5 1743,337.2 1744.2,321.8 1745.4,329.5 1746.6,338.2 1747.8,338.3 1749,336.3 1750.2,336.2 1751.4,339.9 1752.6,343.3 1753.8,350 1755,332.7 1756.2,336.5 1757.4,336.5 1758.6,339.5 1759.8,337.5 1761,344.6 1762.2,331.7 1763.4,324.6 1764.6,330.7 1765.8,337 1767,333.2 1768.2,333.6 1769.4,336 1770.6,324.4 1771.8,337.9 1773,333.1 1774.2,341.5 1775.4,332.4 1776.6,328.1 1777.8,333.4 1779,333.2 1780.2,339.2 1781.4,331.8 1782.6,335.6 1783.8,335.8 1785,338 1786.2,337.6 1787.4,336.8 1788.6,341.2 1789.8,337.4 1791,339.3 1792.2,336.8 1793.4,337.1 1794.6,346.2 1795.8,345.3 1797,339.9 1798.2,337.7 1799.4,332 1800.6,333.3 1801.8,335.3 1803,330.6 1804.2,326.5 1805.4,329.6 1806.6,310.9 1807.8,333.2 1809,340.8 1810.2,340.8 1811.4,344.5 1812.6,340.9 1813.8,339.9 1815,333.8 1816.2,337.2 1817.4,336.7 1818.6,336 1819.8,348.7 1821,348.6 1822.2,335.9 1823.4,336 1824.6,332.7 1825.8,334.4 1827,337.2 1828.2,339.2 1829.4,329.3 1830.6,335.8 1831.8,333.3 1833,338.5 1834.2,337.5 1835.4,340.3 1836.6,336.2 1837.8,324.1 1839,329.7 1840.2,333.3 1841.4,330.2 1842.6,337.2 1843.8,337.1 1845,333.4 1846.2,342.1 1847.4,335.8 1848.6,332.4 1849.8,346.7 1851,347.5 1852.2,339.5 1853.4,334.4 1854.6,330.7 1855.8,333 1857,339.4 1858.2,339.7 1859.4,329.4 1860.6,337.2 1861.8,337.7 1863,335.2 1864.2,322.7 1865.4,325.1 1866.6,337.1 1867.8,337.6 1869,333.1 1870.2,337.9 1871.4,334.2 1872.6,334.5 1873.8,334.6 1875,340.4 1876.2,332.9 1877.4,330 1878.6,336.4 1879.8,332.9 1881,339.1 1882.2,339.7 1883.4,334.6 1884.6,330 1885.8,325.7 1887,329 1888.2,335.7 1889.4,337.1 1890.6,350.9 1891.8,345.2 1893,345.2 1894.2,342.9 1895.4,336.8 1896.6,334.5 1897.8,329.2 1899,332 1900.2,338.9 1901.4,340.5 1902.6,339.5 1903.8,338.7 1905,337.7 1906.2,341 1907.4,331.3 1908.6,337.5 1909.8,342.7 1911,343.5 1912.2,336.3 1913.4,334 1914.6,331.9 1915.8,330.6 1917,333.5 1918.2,339.8 1919.4,341.5 1920.6,344 1921.8,342.8 1923,336.6 1924.2,336.1 1925.4,335.6 1926.6,335.5 1927.8,325.3 1929,333.6 1930.2,339.4 1931.4,345.7 1932.6,341 1933.8,337.6 1935,339.6 1936.2,341.9 1937.4,342.1 1938.6,334.6 1939.8,329.6 1941,333.1 1942.2,328.2 1943.4,343.7 1944.6,340.1 1945.8,343.1 1947,340.8 1948.2,337.1 1949.4,338.3 1950.6,335.9 1951.8,340.7 1953,340.1 1954.2,336.8 1955.4,341.7 1956.6,339.4 1957.8,344.3 1959,339.8 1960.2,336.8 1961.4,339.1 1962.6,337.9"/>
<polyline stroke="#6072ff" stroke-width="3.3" points="1338.6,635.4 1339.8,617.3 1341,600 1342.2,590.2 1343.4,590.8 1344.6,583.9 1345.8,577.6 1347,570.5 1348.2,563.7 1349.4,551.4 1350.6,542.6 1351.8,535.2 1353,528.2 1354.2,521.8 1355.4,518 1356.6,514.3 1357.8,506.4 1359,497.2 1360.2,492 1361.4,486 1362.6,477.9 1363.8,469.3 1365,467.2 1366.2,461 1367.4,454.7 1368.6,448.9 1369.8,443.8 1371,442.1 1372.2,440.7 1373.4,430.8 1374.6,428.9 1375.8,424.1 1377,425.7 1378.2,423.5 1379.4,421.4 1380.6,414.6 1381.8,412.7 1383,412.1 1384.2,402.3 1385.4,397.9 1386.6,397.7 1387.8,395.2 1389,388.9 1390.2,386.2 1391.4,381.9 1392.6,374.8 1393.8,377.3 1395,374.9 1396.2,377.6 1397.4,372.6 1398.6,367.7 1399.8,364.3 1401,367.2 1402.2,367.3 1403.4,365.9 1404.6,361.6 1405.8,359.6 1407,362.1 1408.2,359.2 1409.4,360.6 1410.6,360.1 1411.8,362 1413,360.6 1414.2,361 1415.4,352.9 1416.6,349.1 1417.8,341.9 1419,344.3 1420.2,344.9 1421.4,340.6 1422.6,345.5 1423.8,337.6 1425,343.7 1426.2,340.9 1427.4,337.2 1428.6,335.7 1429.8,330.7 1431,322 1432.2,313.1 1433.4,312.5 1434.6,321.6 1435.8,324.9 1437,327.7 1438.2,323.7 1439.4,331.2 1440.6,331.5 1441.8,332.4 1443,332.4 1444.2,338.3 1445.4,340 1446.6,338.7 1447.8,343.8 1449,337.6 1450.2,332.2 1451.4,329.4 1452.6,326.1 1453.8,324.6 1455,334.6 1456.2,332.4 1457.4,334.2 1458.6,336.1 1459.8,333.4 1461,332.2 1462.2,325 1463.4,324.1 1464.6,316.8 1465.8,331.5 1467,321.1 1468.2,326.2 1469.4,337.3 1470.6,328.3 1471.8,323.1 1473,326.5 1474.2,327.2 1475.4,334.2 1476.6,337.7 1477.8,338.9 1479,333.7 1480.2,329.8 1481.4,334.7 1482.6,331.7 1483.8,332.5 1485,328.1 1486.2,325.2 1487.4,322.2 1488.6,321 1489.8,326.4 1491,317.5 1492.2,319.3 1493.4,325.6 1494.6,325.3 1495.8,323.8 1497,331.8 1498.2,338.3 1499.4,328.7 1500.6,317.9 1501.8,320.5 1503,320 1504.2,328.8 1505.4,324.6 1506.6,317.7 1507.8,318 1509,319.5 1510.2,329.2 1511.4,335 1512.6,341.3 1513.8,319.1 1515,328.7 1516.2,331.8 1517.4,325.5 1518.6,327.1 1519.8,321.3 1521,319.2 1522.2,328.5 1523.4,329.3 1524.6,333.6 1525.8,329 1527,327.8 1528.2,323.3 1529.4,325.9 1530.6,332 1531.8,323.7 1533,320.3 1534.2,324 1535.4,324.8 1536.6,330.5 1537.8,324.8 1539,328.5 1540.2,330.1 1541.4,331.4 1542.6,333.7 1543.8,335 1545,334.7 1546.2,330.3 1547.4,330.2 1548.6,326.2 1549.8,333.4 1551,329.7 1552.2,327.7 1553.4,329.6 1554.6,329.2 1555.8,329.5 1557,329.9 1558.2,327.5 1559.4,327.3 1560.6,328.9 1561.8,332.9 1563,325.3 1564.2,329.6 1565.4,327.3 1566.6,324 1567.8,328.1 1569,332 1570.2,327.6 1571.4,327 1572.6,333.8 1573.8,334.5 1575,337.7 1576.2,341.7 1577.4,340.2 1578.6,333.5 1579.8,336.3 1581,329.4 1582.2,332.3 1583.4,333 1584.6,326 1585.8,326.3 1587,323.2 1588.2,333.1 1589.4,334.2 1590.6,333.1 1591.8,330.3 1593,330 1594.2,329.2 1595.4,323.3 1596.6,329 1597.8,326.6 1599,336.4 1600.2,326.4 1601.4,329 1602.6,327.5 1603.8,337.1 1605,336.4 1606.2,322.1 1607.4,328.5 1608.6,345.5 1609.8,341.6 1611,335.9 1612.2,339.8 1613.4,329.6 1614.6,331.3 1615.8,334.7 1617,336.3 1618.2,328.8 1619.4,326.1 1620.6,332.8 1621.8,329.5 1623,332.6 1624.2,326.2 1625.4,328.2 1626.6,330.1 1627.8,319.2 1629,321 1630.2,329.6 1631.4,326.7 1632.6,321 1633.8,326.2 1635,340.4 1636.2,331.8 1637.4,335.7 1638.6,337.8 1639.8,331.1 1641,329.7 1642.2,329.8 1643.4,323.6 1644.6,331.5 1645.8,332 1647,332.9 1648.2,339.6 1649.4,328.2 1650.6,337.1 1651.8,337.3 1653,335.2 1654.2,338.1 1655.4,330.9 1656.6,326.5 1657.8,330.5 1659,337.2 1660.2,334.9 1661.4,315.7 1662.6,326 1663.8,333.9 1665,341.4 1666.2,337.3 1667.4,328.1 1668.6,334.9 1669.8,338.3 1671,336.3 1672.2,336.8 1673.4,336.6 1674.6,342.1 1675.8,337.2 1677,343.5 1678.2,326.3 1679.4,332.6 1680.6,325.3 1681.8,327.9 1683,334.8 1684.2,340.2 1685.4,334.9 1686.6,332.6 1687.8,329.4 1689,331.1 1690.2,339.9 1691.4,332.9 1692.6,332.9 1693.8,333.8 1695,332.7 1696.2,333.6 1697.4,334.9 1698.6,325.1 1699.8,324.7 1701,326.1 1702.2,330 1703.4,333.1 1704.6,327.3 1705.8,330.2 1707,322.8 1708.2,329 1709.4,330 1710.6,342.4 1711.8,330.7 1713,328.6 1714.2,340.8 1715.4,341.1 1716.6,343.9 1717.8,335.7 1719,335.3 1720.2,328.2 1721.4,334.8 1722.6,322.9 1723.8,332.5 1725,329.6 1726.2,329.3 1727.4,331.9 1728.6,339.5 1729.8,337.8 1731,342.7 1732.2,330.1 1733.4,327.2 1734.6,328.4 1735.8,333 1737,331.8 1738.2,334 1739.4,333.8 1740.6,329.4 1741.8,324.6 1743,332 1744.2,318.2 1745.4,326 1746.6,333.5 1747.8,336.5 1749,332.7 1750.2,333 1751.4,336.4 1752.6,341.4 1753.8,346.6 1755,329.7 1756.2,332.4 1757.4,332.3 1758.6,335.7 1759.8,334.8 1761,340.5 1762.2,328.7 1763.4,322.9 1764.6,328.4 1765.8,333.3 1767,329.4 1768.2,329.7 1769.4,332.2 1770.6,321 1771.8,334.6 1773,330.3 1774.2,337.5 1775.4,328.2 1776.6,324.7 1777.8,329.9 1779,329.7 1780.2,336.8 1781.4,327.2 1782.6,331.7 1783.8,331.4 1785,334.2 1786.2,335.7 1787.4,332.2 1788.6,338.5 1789.8,332.7 1791,336.3 1792.2,334.4 1793.4,335.1 1794.6,343.4 1795.8,342.6 1797,335.5 1798.2,335.1 1799.4,328.5 1800.6,329.3 1801.8,332.1 1803,327.1 1804.2,323.9 1805.4,326.1 1806.6,308 1807.8,328.3 1809,337.5 1810.2,337 1811.4,341.7 1812.6,337 1813.8,335.9 1815,329.6 1816.2,334.7 1817.4,333.7 1818.6,333.3 1819.8,344.1 1821,345.5 1822.2,332.1 1823.4,333.3 1824.6,330.1 1825.8,330.4 1827,334.6 1828.2,336.1 1829.4,325.2 1830.6,332.7 1831.8,331.1 1833,335 1834.2,334.1 1835.4,339.5 1836.6,332.4 1837.8,321 1839,327.4 1840.2,331.4 1841.4,328.5 1842.6,335.3 1843.8,335.5 1845,331.2 1846.2,341.3 1847.4,334.4 1848.6,331.6 1849.8,344.7 1851,346.3 1852.2,338.8 1853.4,332.3 1854.6,328.6 1855.8,331.6 1857,336.8 1858.2,339 1859.4,328 1860.6,336.8 1861.8,336.3 1863,333.4 1864.2,319.2 1865.4,322.3 1866.6,335.1 1867.8,335.6 1869,329.9 1870.2,333.8 1871.4,332 1872.6,331.9 1873.8,332.2 1875,336.2 1876.2,329.2 1877.4,325.9 1878.6,332.5 1879.8,327.9 1881,335 1882.2,333.6 1883.4,330.3 1884.6,323.6 1885.8,319.8 1887,322.9 1888.2,330.8 1889.4,330.9 1890.6,345.2 1891.8,340.2 1893,339.7 1894.2,336.8 1895.4,330.6 1896.6,329.7 1897.8,323.5 1899,326 1900.2,332.6 1901.4,334.7 1902.6,333.8 1903.8,331.3 1905,332.6 1906.2,335.7 1907.4,326.3 1908.6,332.7 1909.8,336.5 1911,336 1912.2,331.1 1913.4,329 1914.6,325.2 1915.8,324.5 1917,328.2 1918.2,334 1919.4,336 1920.6,338.3 1921.8,336.3 1923,330.9 1924.2,330.2 1925.4,331.6 1926.6,329 1927.8,321.2 1929,328 1930.2,333.8 1931.4,339.2 1932.6,334.9 1933.8,331.8 1935,333 1936.2,335.9 1937.4,334.9 1938.6,328 1939.8,324.1 1941,326.6 1942.2,322.2 1943.4,338.6 1944.6,334.1 1945.8,336.5 1947,334.5 1948.2,330.7 1949.4,332 1950.6,331.4 1951.8,335 1953,334.9 1954.2,331.6 1955.4,337.3 1956.6,333.7 1957.8,337 1959,333.8 1960.2,330.8 1961.4,333.6 1962.6,332.9"/>
</g>
<line x1="1306" y1="334" x2="1963" y2="334" stroke="#000" stroke-width="2.4"/>
<line x1="1308.5" y1="334" x2="1308.5" y2="363" stroke="#000" stroke-width="2.6"/>
<rect x="1307.5" y="90.5" width="654" height="505" fill="none" stroke="#000" stroke-width="3"/>
<rect x="905.75" y="639.75" width="168.5" height="235.25" fill="none" stroke="#000" stroke-width="7.5"/>
<line x1="1097" y1="628.3" x2="1268" y2="487.5" stroke="#000" stroke-width="3.2"/>
<polygon points="1288.9,470.3 1256.3,485.2 1268.8,499.6" fill="#000"/>
<g font-family="'Liberation Serif',serif" fill="#000" stroke="#000" stroke-width="0.5" style="font-kerning:none">
<text id="y280" x="179.54" y="1431.7" font-size="74.5" textLength="106.90" lengthAdjust="spacingAndGlyphs">280</text>
<text id="y300" x="178.95" y="1238" font-size="74.5" textLength="107.22" lengthAdjust="spacingAndGlyphs">300</text>
<text id="y320" x="178.95" y="1044.3" font-size="74.5" textLength="107.22" lengthAdjust="spacingAndGlyphs">320</text>
<text id="y340" x="178.95" y="850.6" font-size="74.5" textLength="107.22" lengthAdjust="spacingAndGlyphs">340</text>
<text id="y360" x="178.95" y="657" font-size="74.5" textLength="107.22" lengthAdjust="spacingAndGlyphs">360</text>
<text id="y380" x="178.95" y="463.3" font-size="74.5" textLength="107.22" lengthAdjust="spacingAndGlyphs">380</text>
<text id="y400" x="180.27" y="269.6" font-size="74.5" textLength="106.06" lengthAdjust="spacingAndGlyphs">400</text>
<text id="y420" x="180.27" y="75.9" font-size="74.5" textLength="106.06" lengthAdjust="spacingAndGlyphs">420</text>
<text id="x0" x="298.28" y="1492.9" font-size="74.5" textLength="36.09" lengthAdjust="spacingAndGlyphs">0</text>
<text id="x50" x="616.70" y="1492.9" font-size="74.5" textLength="72.53" lengthAdjust="spacingAndGlyphs">50</text>
<text id="x100" x="938.30" y="1492.9" font-size="74.5" textLength="106.11" lengthAdjust="spacingAndGlyphs">100</text>
<text id="x150" x="1276.35" y="1492.9" font-size="74.5" textLength="105.24" lengthAdjust="spacingAndGlyphs">150</text>
<text id="x200" x="1611.94" y="1492.9" font-size="74.5" textLength="106.80" lengthAdjust="spacingAndGlyphs">200</text>
<text id="x250" x="1949.50" y="1492.9" font-size="74.5" textLength="108.27" lengthAdjust="spacingAndGlyphs">250</text>
<text id="xt" x="1045.81" y="1619.6" font-size="83.3" textLength="229.74" lengthAdjust="spacingAndGlyphs">Time/s</text>
<text id="yt" transform="translate(99.1,856.00) rotate(-90)" x="-0.99" y="0" font-size="84.0" textLength="326.45" lengthAdjust="spacingAndGlyphs">Voltage/v</text>
<text id="l1" x="581.65" y="186.7" font-size="72.5" textLength="252.40" lengthAdjust="spacingAndGlyphs">IFA-PID</text>
<text id="l2" x="581.65" y="273.9" font-size="72.5" textLength="378.47" lengthAdjust="spacingAndGlyphs">IFA-LADRC</text>
<text id="l3" x="582.91" y="360.2" font-size="72.5" textLength="334.45" lengthAdjust="spacingAndGlyphs">Stepvoltage</text>
</g>
</svg>
</body></html>
